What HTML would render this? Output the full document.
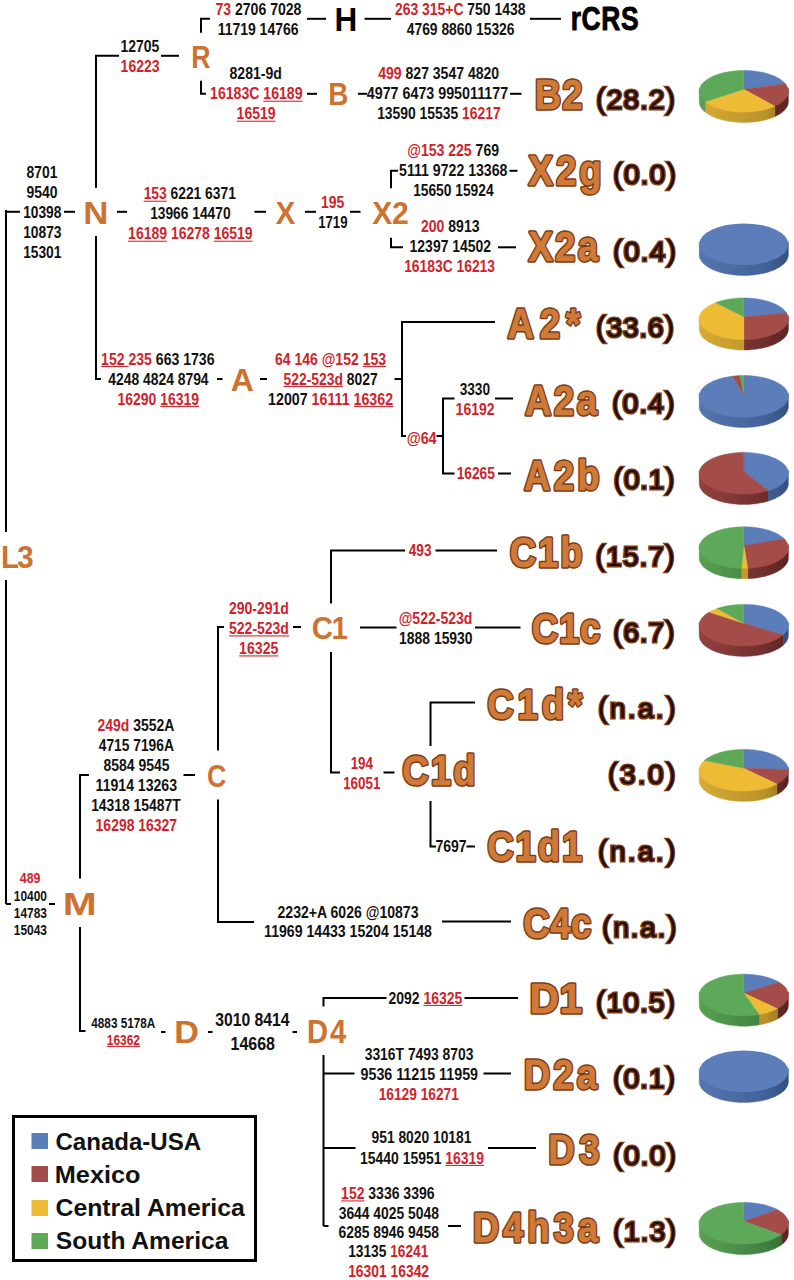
<!DOCTYPE html>
<html><head><meta charset="utf-8"><style>
html,body{margin:0;padding:0;background:#fff;width:794px;height:1280px;overflow:hidden}
svg{display:block}
</style></head><body>
<svg width="794" height="1280" viewBox="0 0 794 1280" font-family="Liberation Sans, sans-serif" font-weight="bold">
<g>
<line x1="6" y1="210" x2="6" y2="532" stroke="#000" stroke-width="2"/>
<line x1="6" y1="580" x2="6" y2="904" stroke="#000" stroke-width="2"/>
<path transform="translate(0,0.8)" d="M6,211 H20" fill="none" stroke="#000" stroke-width="2" stroke-linejoin="miter" stroke-linecap="butt"/>
<path transform="translate(0,0)" d="M6,904 H11" fill="none" stroke="#000" stroke-width="2" stroke-linejoin="miter" stroke-linecap="butt"/>
<path transform="translate(0,0.8)" d="M119,55 H96 V187" fill="none" stroke="#000" stroke-width="2" stroke-linejoin="miter" stroke-linecap="butt"/>
<line x1="96" y1="236" x2="96" y2="380" stroke="#000" stroke-width="2"/>
<path transform="translate(0,0)" d="M96,379 H101" fill="none" stroke="#000" stroke-width="2" stroke-linejoin="miter" stroke-linecap="butt"/>
<path transform="translate(0,0.8)" d="M210,18 H201 V32" fill="none" stroke="#000" stroke-width="2" stroke-linejoin="miter" stroke-linecap="butt"/>
<path transform="translate(0,0.8)" d="M201,80 V93 H206" fill="none" stroke="#000" stroke-width="2" stroke-linejoin="miter" stroke-linecap="butt"/>
<line x1="64" y1="211.8" x2="75" y2="211.8" stroke="#000" stroke-width="2"/>
<line x1="117" y1="211.8" x2="127" y2="211.8" stroke="#000" stroke-width="2"/>
<line x1="254.5" y1="211.8" x2="266" y2="211.8" stroke="#000" stroke-width="2"/>
<line x1="305" y1="211.8" x2="316" y2="211.8" stroke="#000" stroke-width="2"/>
<line x1="350" y1="211.8" x2="360.5" y2="211.8" stroke="#000" stroke-width="2"/>
<line x1="161" y1="55.8" x2="179" y2="55.8" stroke="#000" stroke-width="2"/>
<line x1="307" y1="18.8" x2="326" y2="18.8" stroke="#000" stroke-width="2"/>
<line x1="364.5" y1="18.8" x2="391" y2="18.8" stroke="#000" stroke-width="2"/>
<line x1="530" y1="18.8" x2="561" y2="18.8" stroke="#000" stroke-width="2"/>
<line x1="307" y1="93.8" x2="317" y2="93.8" stroke="#000" stroke-width="2"/>
<line x1="358" y1="93.8" x2="367" y2="93.8" stroke="#000" stroke-width="2"/>
<line x1="510" y1="93.8" x2="521.5" y2="93.8" stroke="#000" stroke-width="2"/>
<path transform="translate(0,0.8)" d="M398,170 H391 V187.5" fill="none" stroke="#000" stroke-width="2" stroke-linejoin="miter" stroke-linecap="butt"/>
<path transform="translate(0,0.8)" d="M391,237 V246.5 H403" fill="none" stroke="#000" stroke-width="2" stroke-linejoin="miter" stroke-linecap="butt"/>
<line x1="509.5" y1="170.8" x2="517.5" y2="170.8" stroke="#000" stroke-width="2"/>
<line x1="498" y1="247.3" x2="516" y2="247.3" stroke="#000" stroke-width="2"/>
<line x1="217" y1="379" x2="222.5" y2="379" stroke="#000" stroke-width="2"/>
<line x1="260" y1="379" x2="267" y2="379" stroke="#000" stroke-width="2"/>
<line x1="394.5" y1="379" x2="402" y2="379" stroke="#000" stroke-width="2"/>
<path transform="translate(0,0)" d="M495,322 H402 V436 H406" fill="none" stroke="#000" stroke-width="2" stroke-linejoin="miter" stroke-linecap="butt"/>
<line x1="436.5" y1="436" x2="443" y2="436" stroke="#000" stroke-width="2"/>
<path transform="translate(0,0)" d="M454.5,398.5 H443 V473.5 H454.5" fill="none" stroke="#000" stroke-width="2" stroke-linejoin="miter" stroke-linecap="butt"/>
<line x1="495" y1="398.5" x2="513" y2="398.5" stroke="#000" stroke-width="2"/>
<line x1="498" y1="473.5" x2="511" y2="473.5" stroke="#000" stroke-width="2"/>
<path transform="translate(0,0.5)" d="M89,774.5 H80 V878" fill="none" stroke="#000" stroke-width="2" stroke-linejoin="miter" stroke-linecap="butt"/>
<path transform="translate(0,0)" d="M80,927 V1031 H85.5" fill="none" stroke="#000" stroke-width="2" stroke-linejoin="miter" stroke-linecap="butt"/>
<line x1="49" y1="904" x2="55" y2="904" stroke="#000" stroke-width="2"/>
<line x1="183.5" y1="775.0" x2="195" y2="775.0" stroke="#000" stroke-width="2"/>
<path transform="translate(0,0.5)" d="M224,626.5 H218 V750" fill="none" stroke="#000" stroke-width="2" stroke-linejoin="miter" stroke-linecap="butt"/>
<path transform="translate(0,0.5)" d="M218,799 V921.5 H254" fill="none" stroke="#000" stroke-width="2" stroke-linejoin="miter" stroke-linecap="butt"/>
<line x1="293" y1="627.0" x2="301" y2="627.0" stroke="#000" stroke-width="2"/>
<line x1="442" y1="921.5" x2="511" y2="921.5" stroke="#000" stroke-width="2"/>
<path transform="translate(0,0.5)" d="M405,550 H331 V603" fill="none" stroke="#000" stroke-width="2" stroke-linejoin="miter" stroke-linecap="butt"/>
<path transform="translate(0,0.5)" d="M331,651.5 V772 H340" fill="none" stroke="#000" stroke-width="2" stroke-linejoin="miter" stroke-linecap="butt"/>
<line x1="435.5" y1="550.5" x2="497" y2="550.5" stroke="#000" stroke-width="2"/>
<line x1="360" y1="627.5" x2="396.5" y2="627.5" stroke="#000" stroke-width="2"/>
<line x1="475" y1="627.5" x2="520.5" y2="627.5" stroke="#000" stroke-width="2"/>
<line x1="383.5" y1="772.5" x2="394.5" y2="772.5" stroke="#000" stroke-width="2"/>
<path transform="translate(0,0.5)" d="M475,702 H430.5 V745.5" fill="none" stroke="#000" stroke-width="2" stroke-linejoin="miter" stroke-linecap="butt"/>
<path transform="translate(0,0.5)" d="M430.5,800.5 V846 H436" fill="none" stroke="#000" stroke-width="2" stroke-linejoin="miter" stroke-linecap="butt"/>
<line x1="466.5" y1="846.5" x2="475" y2="846.5" stroke="#000" stroke-width="2"/>
<line x1="161" y1="1032" x2="165.5" y2="1032" stroke="#000" stroke-width="2"/>
<line x1="208" y1="1032" x2="212.5" y2="1032" stroke="#000" stroke-width="2"/>
<line x1="292.5" y1="1032" x2="297" y2="1032" stroke="#000" stroke-width="2"/>
<path transform="translate(0,0)" d="M386.5,998 H323.5 V1006.5" fill="none" stroke="#000" stroke-width="2" stroke-linejoin="miter" stroke-linecap="butt"/>
<line x1="323.5" y1="1055" x2="323.5" y2="1226" stroke="#000" stroke-width="2"/>
<path transform="translate(0,0)" d="M323.5,1226 H328.5" fill="none" stroke="#000" stroke-width="2" stroke-linejoin="miter" stroke-linecap="butt"/>
<line x1="464.5" y1="998" x2="518" y2="998" stroke="#000" stroke-width="2"/>
<line x1="323.5" y1="1073.5" x2="354.5" y2="1073.5" stroke="#000" stroke-width="2"/>
<line x1="483.5" y1="1073.5" x2="511" y2="1073.5" stroke="#000" stroke-width="2"/>
<line x1="323.5" y1="1148" x2="355.5" y2="1148" stroke="#000" stroke-width="2"/>
<line x1="488" y1="1148" x2="536" y2="1148" stroke="#000" stroke-width="2"/>
<line x1="448" y1="1226" x2="461" y2="1226" stroke="#000" stroke-width="2"/>
<text x="215.40" y="15.3" font-size="16.5" textLength="86.04" lengthAdjust="spacingAndGlyphs" fill="#111"><tspan fill="#d0222a">73</tspan> 2706 7028</text>
<text x="217.63" y="35.3" font-size="16.5" textLength="80.87" lengthAdjust="spacingAndGlyphs" fill="#111">11719 14766</text>
<text x="120.62" y="52.3" font-size="16.5" textLength="38.77" lengthAdjust="spacingAndGlyphs" fill="#111">12705</text>
<text x="120.62" y="72.3" font-size="16.5" textLength="38.89" lengthAdjust="spacingAndGlyphs" fill="#111"><tspan fill="#d0222a">16223</tspan></text>
<text x="229.55" y="79.3" font-size="16.5" textLength="52.37" lengthAdjust="spacingAndGlyphs" fill="#111">8281-9d</text>
<text x="210.11" y="99.3" font-size="16.5" textLength="92.41" lengthAdjust="spacingAndGlyphs" fill="#111"><tspan fill="#d0222a">16183C</tspan> <tspan fill="#d0222a">16189</tspan></text>
<text x="236.62" y="119.3" font-size="16.5" textLength="38.90" lengthAdjust="spacingAndGlyphs" fill="#111"><tspan fill="#d0222a">16519</tspan></text>
<text x="395.02" y="15.3" font-size="16.5" textLength="130.41" lengthAdjust="spacingAndGlyphs" fill="#111"><tspan fill="#d0222a">263 315+C</tspan> 750 1438</text>
<text x="406.79" y="35.3" font-size="16.5" textLength="107.71" lengthAdjust="spacingAndGlyphs" fill="#111">4769 8860 15326</text>
<text x="378.29" y="78.8" font-size="16.5" textLength="120.79" lengthAdjust="spacingAndGlyphs" fill="#111"><tspan fill="#d0222a">499</tspan> 827 3547 4820</text>
<text x="366.79" y="99.0" font-size="16.5" textLength="141.33" lengthAdjust="spacingAndGlyphs" fill="#111">4977 6473 995011177</text>
<text x="377.13" y="119.3" font-size="16.5" textLength="123.48" lengthAdjust="spacingAndGlyphs" fill="#111">13590 15535 <tspan fill="#d0222a">16217</tspan></text>
<text x="26.56" y="178.3" font-size="16.5" textLength="30.83" lengthAdjust="spacingAndGlyphs" fill="#111">8701</text>
<text x="26.52" y="198.3" font-size="16.5" textLength="31.06" lengthAdjust="spacingAndGlyphs" fill="#111">9540</text>
<text x="23.13" y="218.3" font-size="16.5" textLength="38.29" lengthAdjust="spacingAndGlyphs" fill="#111">10398</text>
<text x="23.13" y="238.3" font-size="16.5" textLength="38.37" lengthAdjust="spacingAndGlyphs" fill="#111">10873</text>
<text x="23.13" y="258.3" font-size="16.5" textLength="38.25" lengthAdjust="spacingAndGlyphs" fill="#111">15301</text>
<text x="143.63" y="199.3" font-size="16.5" textLength="92.26" lengthAdjust="spacingAndGlyphs" fill="#111"><tspan fill="#d0222a">153</tspan> 6221 6371</text>
<text x="150.13" y="219.3" font-size="16.5" textLength="80.43" lengthAdjust="spacingAndGlyphs" fill="#111">13966 14470</text>
<text x="128.12" y="239.3" font-size="16.5" textLength="124.40" lengthAdjust="spacingAndGlyphs" fill="#111"><tspan fill="#d0222a">16189</tspan> <tspan fill="#d0222a">16278</tspan> <tspan fill="#d0222a">16519</tspan></text>
<text x="321.12" y="207.8" font-size="16.5" textLength="23.27" lengthAdjust="spacingAndGlyphs" fill="#111"><tspan fill="#d0222a">195</tspan></text>
<text x="318.17" y="227.8" font-size="16.5" textLength="29.32" lengthAdjust="spacingAndGlyphs" fill="#111">1719</text>
<text x="407.20" y="155.8" font-size="16.5" textLength="91.82" lengthAdjust="spacingAndGlyphs" fill="#111"><tspan fill="#d0222a">@153 225</tspan> 769</text>
<text x="399.07" y="175.8" font-size="16.5" textLength="108.36" lengthAdjust="spacingAndGlyphs" fill="#111">5111 9722 13368</text>
<text x="413.13" y="195.8" font-size="16.5" textLength="80.44" lengthAdjust="spacingAndGlyphs" fill="#111">15650 15924</text>
<text x="421.01" y="231.8" font-size="16.5" textLength="58.49" lengthAdjust="spacingAndGlyphs" fill="#111"><tspan fill="#d0222a">200</tspan> 8913</text>
<text x="409.62" y="251.8" font-size="16.5" textLength="81.44" lengthAdjust="spacingAndGlyphs" fill="#111">12397 14502</text>
<text x="404.13" y="271.8" font-size="16.5" textLength="90.87" lengthAdjust="spacingAndGlyphs" fill="#111"><tspan fill="#d0222a">16183C 16213</tspan></text>
<text x="101.11" y="364.5" font-size="16.5" textLength="113.39" lengthAdjust="spacingAndGlyphs" fill="#111"><tspan fill="#d0222a">152 </tspan><tspan fill="#d0222a">235</tspan> 663 1736</text>
<text x="108.29" y="384.5" font-size="16.5" textLength="100.28" lengthAdjust="spacingAndGlyphs" fill="#111">4248 4824 8794</text>
<text x="117.62" y="404.5" font-size="16.5" textLength="81.40" lengthAdjust="spacingAndGlyphs" fill="#111"><tspan fill="#d0222a">16290</tspan> <tspan fill="#d0222a">16319</tspan></text>
<text x="274.99" y="364.5" font-size="16.5" textLength="111.02" lengthAdjust="spacingAndGlyphs" fill="#111"><tspan fill="#d0222a">64 146 @152</tspan> <tspan fill="#d0222a">153</tspan></text>
<text x="283.57" y="384.5" font-size="16.5" textLength="94.04" lengthAdjust="spacingAndGlyphs" fill="#111"><tspan fill="#d0222a">522-523d</tspan> 8027</text>
<text x="268.12" y="404.5" font-size="16.5" textLength="124.95" lengthAdjust="spacingAndGlyphs" fill="#111">12007 <tspan fill="#d0222a">16111</tspan> <tspan fill="#d0222a">16362</tspan></text>
<text x="406.68" y="443.5" font-size="16.5" textLength="29.90" lengthAdjust="spacingAndGlyphs" fill="#111"><tspan fill="#d0222a">@64</tspan></text>
<text x="459.69" y="394.5" font-size="16.5" textLength="30.37" lengthAdjust="spacingAndGlyphs" fill="#111">3330</text>
<text x="455.62" y="414.5" font-size="16.5" textLength="38.94" lengthAdjust="spacingAndGlyphs" fill="#111"><tspan fill="#d0222a">16192</tspan></text>
<text x="456.63" y="479" font-size="16.5" textLength="38.25" lengthAdjust="spacingAndGlyphs" fill="#111"><tspan fill="#d0222a">16265</tspan></text>
<text x="229.01" y="613.5" font-size="16.5" textLength="59.91" lengthAdjust="spacingAndGlyphs" fill="#111"><tspan fill="#d0222a">290-291d</tspan></text>
<text x="229.07" y="634.0" font-size="16.5" textLength="59.85" lengthAdjust="spacingAndGlyphs" fill="#111"><tspan fill="#d0222a">522-523d</tspan></text>
<text x="239.11" y="654.0" font-size="16.5" textLength="39.28" lengthAdjust="spacingAndGlyphs" fill="#111"><tspan fill="#d0222a">16325</tspan></text>
<text x="408.79" y="555.8" font-size="16.5" textLength="22.70" lengthAdjust="spacingAndGlyphs" fill="#111"><tspan fill="#d0222a">493</tspan></text>
<text x="398.70" y="624.0" font-size="16.5" textLength="73.73" lengthAdjust="spacingAndGlyphs" fill="#111"><tspan fill="#d0222a">@522-523d</tspan></text>
<text x="399.12" y="643.5" font-size="16.5" textLength="73.45" lengthAdjust="spacingAndGlyphs" fill="#111">1888 15930</text>
<text x="97.52" y="731.0" font-size="16.5" textLength="76.85" lengthAdjust="spacingAndGlyphs" fill="#111"><tspan fill="#d0222a">249d</tspan> 3552A</text>
<text x="98.79" y="751.0" font-size="16.5" textLength="75.07" lengthAdjust="spacingAndGlyphs" fill="#111">4715 7196A</text>
<text x="103.56" y="770.5" font-size="16.5" textLength="65.83" lengthAdjust="spacingAndGlyphs" fill="#111">8584 9545</text>
<text x="95.62" y="791.0" font-size="16.5" textLength="81.38" lengthAdjust="spacingAndGlyphs" fill="#111">11914 13263</text>
<text x="91.13" y="811.0" font-size="16.5" textLength="89.52" lengthAdjust="spacingAndGlyphs" fill="#111">14318 15487T</text>
<text x="95.62" y="831.0" font-size="16.5" textLength="81.49" lengthAdjust="spacingAndGlyphs" fill="#111"><tspan fill="#d0222a">16298 16327</tspan></text>
<text x="350.65" y="769.0" font-size="16.5" textLength="22.42" lengthAdjust="spacingAndGlyphs" fill="#111"><tspan fill="#d0222a">194</tspan></text>
<text x="343.16" y="789.0" font-size="16.5" textLength="37.22" lengthAdjust="spacingAndGlyphs" fill="#111"><tspan fill="#d0222a">16051</tspan></text>
<text x="435.40" y="852.0" font-size="16.5" textLength="31.22" lengthAdjust="spacingAndGlyphs" fill="#111">7697</text>
<text x="277.51" y="917.5" font-size="16.5" textLength="140.99" lengthAdjust="spacingAndGlyphs" fill="#111">2232+A 6026 @10873</text>
<text x="264.12" y="937" font-size="16.5" textLength="167.82" lengthAdjust="spacingAndGlyphs" fill="#111">11969 14433 15204 15148</text>
<text x="19.81" y="883" font-size="14" textLength="20.65" lengthAdjust="spacingAndGlyphs" fill="#111"><tspan fill="#d0222a">489</tspan></text>
<text x="13.75" y="900.5" font-size="14" textLength="33.24" lengthAdjust="spacingAndGlyphs" fill="#111">10400</text>
<text x="13.75" y="917.5" font-size="14" textLength="33.18" lengthAdjust="spacingAndGlyphs" fill="#111">14783</text>
<text x="13.75" y="934.5" font-size="14" textLength="33.18" lengthAdjust="spacingAndGlyphs" fill="#111">15043</text>
<text x="91.32" y="1027.5" font-size="14" textLength="63.99" lengthAdjust="spacingAndGlyphs" fill="#111">4883 5178A</text>
<text x="106.75" y="1044.5" font-size="14" textLength="33.23" lengthAdjust="spacingAndGlyphs" fill="#111"><tspan fill="#d0222a">16362</tspan></text>
<text x="215.14" y="1026" font-size="18" textLength="74.45" lengthAdjust="spacingAndGlyphs" fill="#111">3010 8414</text>
<text x="230.49" y="1049.5" font-size="18" textLength="44.50" lengthAdjust="spacingAndGlyphs" fill="#111">14668</text>
<text x="388.52" y="1003.5" font-size="16.5" textLength="73.87" lengthAdjust="spacingAndGlyphs" fill="#111">2092 <tspan fill="#d0222a">16325</tspan></text>
<text x="364.68" y="1059.5" font-size="16.5" textLength="108.82" lengthAdjust="spacingAndGlyphs" fill="#111">3316T 7493 8703</text>
<text x="360.51" y="1079.5" font-size="16.5" textLength="117.51" lengthAdjust="spacingAndGlyphs" fill="#111">9536 11215 11959</text>
<text x="378.63" y="1099.5" font-size="16.5" textLength="80.25" lengthAdjust="spacingAndGlyphs" fill="#111"><tspan fill="#d0222a">16129 16271</tspan></text>
<text x="371.52" y="1143" font-size="16.5" textLength="99.86" lengthAdjust="spacingAndGlyphs" fill="#111">951 8020 10181</text>
<text x="360.12" y="1163.5" font-size="16.5" textLength="123.89" lengthAdjust="spacingAndGlyphs" fill="#111">15440 15951 <tspan fill="#d0222a">16319</tspan></text>
<text x="341.12" y="1199" font-size="16.5" textLength="93.39" lengthAdjust="spacingAndGlyphs" fill="#111"><tspan fill="#d0222a">152</tspan> 3336 3396</text>
<text x="338.68" y="1218.5" font-size="16.5" textLength="100.24" lengthAdjust="spacingAndGlyphs" fill="#111">3644 4025 5048</text>
<text x="338.49" y="1238" font-size="16.5" textLength="100.44" lengthAdjust="spacingAndGlyphs" fill="#111">6285 8946 9458</text>
<text x="348.13" y="1257" font-size="16.5" textLength="80.25" lengthAdjust="spacingAndGlyphs" fill="#111">13135 <tspan fill="#d0222a">16241</tspan></text>
<text x="348.13" y="1276.5" font-size="16.5" textLength="80.93" lengthAdjust="spacingAndGlyphs" fill="#111"><tspan fill="#d0222a">16301 16342</tspan></text>
<text x="83.17" y="224" font-size="31" textLength="25.18" lengthAdjust="spacingAndGlyphs" fill="#cc7232">N</text>
<text x="191.21" y="68" font-size="31" textLength="19.34" lengthAdjust="spacingAndGlyphs" fill="#cc7232">R</text>
<text x="328.14" y="104.5" font-size="31" textLength="20.13" lengthAdjust="spacingAndGlyphs" fill="#cc7232">B</text>
<text x="334.39" y="30.5" font-size="33.5" textLength="22.73" lengthAdjust="spacingAndGlyphs" fill="#000">H</text>
<text x="275.74" y="223.5" font-size="31" textLength="19.51" lengthAdjust="spacingAndGlyphs" fill="#cc7232">X</text>
<text transform="translate(372.24,223.50) scale(0.94,1)" x="0" y="0" font-size="32" textLength="38.80" lengthAdjust="spacing" fill="#cc7232">X2</text>
<text x="230.70" y="390.5" font-size="31" textLength="23.14" lengthAdjust="spacingAndGlyphs" fill="#cc7232">A</text>
<text transform="translate(311.79,638.50) scale(0.92,1)" x="0" y="0" font-size="32" textLength="39.16" lengthAdjust="spacing" fill="#cc7232">C1</text>
<text x="206.90" y="786.5" font-size="31" textLength="19.33" lengthAdjust="spacingAndGlyphs" fill="#cc7232">C</text>
<text x="62.77" y="915" font-size="31" textLength="33.95" lengthAdjust="spacingAndGlyphs" fill="#cc7232">M</text>
<text x="174.21" y="1042.5" font-size="31" textLength="24.73" lengthAdjust="spacingAndGlyphs" fill="#cc7232">D</text>
<text transform="translate(307.04,1043.00) scale(0.9,1)" x="0" y="0" font-size="32.5" textLength="43.46" lengthAdjust="spacing" fill="#cc7232">D4</text>
<text transform="translate(1.03,568.00) scale(0.92,1)" x="0" y="0" font-size="32" textLength="35.36" lengthAdjust="spacing" fill="#cc7232">L3</text>
<text transform="translate(570.71,30.30) scale(0.8,1)" x="0" y="0" font-size="33" textLength="84.84" lengthAdjust="spacing" fill="#000" stroke="#000" stroke-width="0.9" stroke-linejoin="round">rCRS</text>
<text transform="translate(534.86,109.40) scale(0.85,1)" x="0" y="0" font-size="43" textLength="56.25" lengthAdjust="spacing" fill="#d07a3a" stroke="#7a3a14" stroke-width="3.6" stroke-linejoin="round">B2</text>
<text transform="translate(534.86,109.40) scale(0.85,1)" x="0" y="0" font-size="43" textLength="56.25" lengthAdjust="spacing" fill="#d07a3a" stroke="#d07a3a" stroke-width="0.60" stroke-linejoin="round">B2</text>
<text transform="translate(528.48,185.40) scale(0.85,1)" x="0" y="0" font-size="43" textLength="86.08" lengthAdjust="spacing" fill="#d07a3a" stroke="#7a3a14" stroke-width="3.6" stroke-linejoin="round">X2g</text>
<text transform="translate(528.48,185.40) scale(0.85,1)" x="0" y="0" font-size="43" textLength="86.08" lengthAdjust="spacing" fill="#d07a3a" stroke="#d07a3a" stroke-width="0.60" stroke-linejoin="round">X2g</text>
<text transform="translate(528.48,261.40) scale(0.85,1)" x="0" y="0" font-size="43" textLength="81.75" lengthAdjust="spacing" fill="#d07a3a" stroke="#7a3a14" stroke-width="3.6" stroke-linejoin="round">X2a</text>
<text transform="translate(528.48,261.40) scale(0.85,1)" x="0" y="0" font-size="43" textLength="81.75" lengthAdjust="spacing" fill="#d07a3a" stroke="#d07a3a" stroke-width="0.60" stroke-linejoin="round">X2a</text>
<text transform="translate(507.39,337.90) scale(0.85,1)" x="0" y="0" font-size="43" textLength="85.70" lengthAdjust="spacing" fill="#d07a3a" stroke="#7a3a14" stroke-width="3.6" stroke-linejoin="round">A2*</text>
<text transform="translate(507.39,337.90) scale(0.85,1)" x="0" y="0" font-size="43" textLength="85.70" lengthAdjust="spacing" fill="#d07a3a" stroke="#d07a3a" stroke-width="0.60" stroke-linejoin="round">A2*</text>
<text transform="translate(524.89,414.90) scale(0.85,1)" x="0" y="0" font-size="43" textLength="84.80" lengthAdjust="spacing" fill="#d07a3a" stroke="#7a3a14" stroke-width="3.6" stroke-linejoin="round">A2a</text>
<text transform="translate(524.89,414.90) scale(0.85,1)" x="0" y="0" font-size="43" textLength="84.80" lengthAdjust="spacing" fill="#d07a3a" stroke="#d07a3a" stroke-width="0.60" stroke-linejoin="round">A2a</text>
<text transform="translate(523.89,489.90) scale(0.85,1)" x="0" y="0" font-size="43" textLength="89.19" lengthAdjust="spacing" fill="#d07a3a" stroke="#7a3a14" stroke-width="3.6" stroke-linejoin="round">A2b</text>
<text transform="translate(523.89,489.90) scale(0.85,1)" x="0" y="0" font-size="43" textLength="89.19" lengthAdjust="spacing" fill="#d07a3a" stroke="#d07a3a" stroke-width="0.60" stroke-linejoin="round">A2b</text>
<text transform="translate(509.80,566.90) scale(0.85,1)" x="0" y="0" font-size="43" textLength="85.76" lengthAdjust="spacing" fill="#d07a3a" stroke="#7a3a14" stroke-width="3.6" stroke-linejoin="round">C1b</text>
<text transform="translate(509.80,566.90) scale(0.85,1)" x="0" y="0" font-size="43" textLength="85.76" lengthAdjust="spacing" fill="#d07a3a" stroke="#d07a3a" stroke-width="0.60" stroke-linejoin="round">C1b</text>
<text transform="translate(531.80,643.40) scale(0.85,1)" x="0" y="0" font-size="43" textLength="80.55" lengthAdjust="spacing" fill="#d07a3a" stroke="#7a3a14" stroke-width="3.6" stroke-linejoin="round">C1c</text>
<text transform="translate(531.80,643.40) scale(0.85,1)" x="0" y="0" font-size="43" textLength="80.55" lengthAdjust="spacing" fill="#d07a3a" stroke="#d07a3a" stroke-width="0.60" stroke-linejoin="round">C1c</text>
<text transform="translate(487.30,718.90) scale(0.85,1)" x="0" y="0" font-size="43" textLength="111.69" lengthAdjust="spacing" fill="#d07a3a" stroke="#7a3a14" stroke-width="3.6" stroke-linejoin="round">C1d*</text>
<text transform="translate(487.30,718.90) scale(0.85,1)" x="0" y="0" font-size="43" textLength="111.69" lengthAdjust="spacing" fill="#d07a3a" stroke="#d07a3a" stroke-width="0.60" stroke-linejoin="round">C1d*</text>
<text transform="translate(402.30,785.40) scale(0.85,1)" x="0" y="0" font-size="43" textLength="86.25" lengthAdjust="spacing" fill="#d07a3a" stroke="#7a3a14" stroke-width="3.6" stroke-linejoin="round">C1d</text>
<text transform="translate(402.30,785.40) scale(0.85,1)" x="0" y="0" font-size="43" textLength="86.25" lengthAdjust="spacing" fill="#d07a3a" stroke="#d07a3a" stroke-width="0.60" stroke-linejoin="round">C1d</text>
<text transform="translate(487.30,861.40) scale(0.85,1)" x="0" y="0" font-size="43" textLength="111.67" lengthAdjust="spacing" fill="#d07a3a" stroke="#7a3a14" stroke-width="3.6" stroke-linejoin="round">C1d1</text>
<text transform="translate(487.30,861.40) scale(0.85,1)" x="0" y="0" font-size="43" textLength="111.67" lengthAdjust="spacing" fill="#d07a3a" stroke="#d07a3a" stroke-width="0.60" stroke-linejoin="round">C1d1</text>
<text transform="translate(523.30,937.90) scale(0.85,1)" x="0" y="0" font-size="43" textLength="79.96" lengthAdjust="spacing" fill="#d07a3a" stroke="#7a3a14" stroke-width="3.6" stroke-linejoin="round">C4c</text>
<text transform="translate(523.30,937.90) scale(0.85,1)" x="0" y="0" font-size="43" textLength="79.96" lengthAdjust="spacing" fill="#d07a3a" stroke="#d07a3a" stroke-width="0.60" stroke-linejoin="round">C4c</text>
<text transform="translate(529.57,1013.40) scale(0.95,1)" x="0" y="0" font-size="43" textLength="55.55" lengthAdjust="spacing" fill="#d07a3a" stroke="#7a3a14" stroke-width="3.6" stroke-linejoin="round">D1</text>
<text transform="translate(529.57,1013.40) scale(0.95,1)" x="0" y="0" font-size="43" textLength="55.55" lengthAdjust="spacing" fill="#d07a3a" stroke="#d07a3a" stroke-width="0.60" stroke-linejoin="round">D1</text>
<text transform="translate(523.86,1088.90) scale(0.85,1)" x="0" y="0" font-size="43" textLength="86.02" lengthAdjust="spacing" fill="#d07a3a" stroke="#7a3a14" stroke-width="3.6" stroke-linejoin="round">D2a</text>
<text transform="translate(523.86,1088.90) scale(0.85,1)" x="0" y="0" font-size="43" textLength="86.02" lengthAdjust="spacing" fill="#d07a3a" stroke="#d07a3a" stroke-width="0.60" stroke-linejoin="round">D2a</text>
<text transform="translate(548.36,1163.90) scale(0.85,1)" x="0" y="0" font-size="43" textLength="60.19" lengthAdjust="spacing" fill="#d07a3a" stroke="#7a3a14" stroke-width="3.6" stroke-linejoin="round">D3</text>
<text transform="translate(548.36,1163.90) scale(0.85,1)" x="0" y="0" font-size="43" textLength="60.19" lengthAdjust="spacing" fill="#d07a3a" stroke="#d07a3a" stroke-width="0.60" stroke-linejoin="round">D3</text>
<text transform="translate(472.86,1241.90) scale(0.85,1)" x="0" y="0" font-size="43" textLength="147.19" lengthAdjust="spacing" fill="#d07a3a" stroke="#7a3a14" stroke-width="3.6" stroke-linejoin="round">D4h3a</text>
<text transform="translate(472.86,1241.90) scale(0.85,1)" x="0" y="0" font-size="43" textLength="147.19" lengthAdjust="spacing" fill="#d07a3a" stroke="#d07a3a" stroke-width="0.60" stroke-linejoin="round">D4h3a</text>
<text transform="translate(595.64,108.85) scale(1.0,1)" x="0" y="0" font-size="28.5" font-weight="normal" textLength="79.72" lengthAdjust="spacing" fill="#220d05" stroke="#7a3a18" stroke-width="3.0" paint-order="stroke"><tspan font-size="30" stroke-width="2.3">(</tspan>28.2<tspan font-size="30" stroke-width="2.3">)</tspan></text>
<text transform="translate(612.64,184.25) scale(1.0,1)" x="0" y="0" font-size="28.5" font-weight="normal" textLength="63.72" lengthAdjust="spacing" fill="#220d05" stroke="#7a3a18" stroke-width="3.0" paint-order="stroke"><tspan font-size="30" stroke-width="2.3">(</tspan>0.0<tspan font-size="30" stroke-width="2.3">)</tspan></text>
<text transform="translate(612.64,260.75) scale(1.0,1)" x="0" y="0" font-size="28.5" font-weight="normal" textLength="63.72" lengthAdjust="spacing" fill="#220d05" stroke="#7a3a18" stroke-width="3.0" paint-order="stroke"><tspan font-size="30" stroke-width="2.3">(</tspan>0.4<tspan font-size="30" stroke-width="2.3">)</tspan></text>
<text transform="translate(595.64,336.60) scale(1.0,1)" x="0" y="0" font-size="28.5" font-weight="normal" textLength="78.72" lengthAdjust="spacing" fill="#220d05" stroke="#7a3a18" stroke-width="3.0" paint-order="stroke"><tspan font-size="30" stroke-width="2.3">(</tspan>33.6<tspan font-size="30" stroke-width="2.3">)</tspan></text>
<text transform="translate(611.64,413.40) scale(1.0,1)" x="0" y="0" font-size="28.5" font-weight="normal" textLength="63.22" lengthAdjust="spacing" fill="#220d05" stroke="#7a3a18" stroke-width="3.0" paint-order="stroke"><tspan font-size="30" stroke-width="2.3">(</tspan>0.4<tspan font-size="30" stroke-width="2.3">)</tspan></text>
<text transform="translate(613.14,488.90) scale(1.0,1)" x="0" y="0" font-size="28.5" font-weight="normal" textLength="61.72" lengthAdjust="spacing" fill="#220d05" stroke="#7a3a18" stroke-width="3.0" paint-order="stroke"><tspan font-size="30" stroke-width="2.3">(</tspan>0.1<tspan font-size="30" stroke-width="2.3">)</tspan></text>
<text transform="translate(595.14,565.55) scale(1.0,1)" x="0" y="0" font-size="28.5" font-weight="normal" textLength="79.72" lengthAdjust="spacing" fill="#220d05" stroke="#7a3a18" stroke-width="3.0" paint-order="stroke"><tspan font-size="30" stroke-width="2.3">(</tspan>15.7<tspan font-size="30" stroke-width="2.3">)</tspan></text>
<text transform="translate(612.64,642.10) scale(1.0,1)" x="0" y="0" font-size="28.5" font-weight="normal" textLength="62.22" lengthAdjust="spacing" fill="#220d05" stroke="#7a3a18" stroke-width="3.0" paint-order="stroke"><tspan font-size="30" stroke-width="2.3">(</tspan>6.7<tspan font-size="30" stroke-width="2.3">)</tspan></text>
<text transform="translate(597.64,717.80) scale(1.0,1)" x="0" y="0" font-size="28.5" font-weight="normal" textLength="78.22" lengthAdjust="spacing" fill="#220d05" stroke="#7a3a18" stroke-width="3.0" paint-order="stroke"><tspan font-size="30" stroke-width="2.3">(</tspan>n.a.<tspan font-size="30" stroke-width="2.3">)</tspan></text>
<text transform="translate(607.64,783.75) scale(1.0,1)" x="0" y="0" font-size="28.5" font-weight="normal" textLength="68.22" lengthAdjust="spacing" fill="#220d05" stroke="#7a3a18" stroke-width="3.0" paint-order="stroke"><tspan font-size="30" stroke-width="2.3">(</tspan>3.0<tspan font-size="30" stroke-width="2.3">)</tspan></text>
<text transform="translate(597.64,860.70) scale(1.0,1)" x="0" y="0" font-size="28.5" font-weight="normal" textLength="78.22" lengthAdjust="spacing" fill="#220d05" stroke="#7a3a18" stroke-width="3.0" paint-order="stroke"><tspan font-size="30" stroke-width="2.3">(</tspan>n.a.<tspan font-size="30" stroke-width="2.3">)</tspan></text>
<text transform="translate(601.64,937.00) scale(1.0,1)" x="0" y="0" font-size="28.5" font-weight="normal" textLength="75.22" lengthAdjust="spacing" fill="#220d05" stroke="#7a3a18" stroke-width="3.0" paint-order="stroke"><tspan font-size="30" stroke-width="2.3">(</tspan>n.a.<tspan font-size="30" stroke-width="2.3">)</tspan></text>
<text transform="translate(595.64,1011.90) scale(1.0,1)" x="0" y="0" font-size="28.5" font-weight="normal" textLength="79.72" lengthAdjust="spacing" fill="#220d05" stroke="#7a3a18" stroke-width="3.0" paint-order="stroke"><tspan font-size="30" stroke-width="2.3">(</tspan>10.5<tspan font-size="30" stroke-width="2.3">)</tspan></text>
<text transform="translate(612.64,1087.80) scale(1.0,1)" x="0" y="0" font-size="28.5" font-weight="normal" textLength="62.72" lengthAdjust="spacing" fill="#220d05" stroke="#7a3a18" stroke-width="3.0" paint-order="stroke"><tspan font-size="30" stroke-width="2.3">(</tspan>0.1<tspan font-size="30" stroke-width="2.3">)</tspan></text>
<text transform="translate(612.64,1164.55) scale(1.0,1)" x="0" y="0" font-size="28.5" font-weight="normal" textLength="63.72" lengthAdjust="spacing" fill="#220d05" stroke="#7a3a18" stroke-width="3.0" paint-order="stroke"><tspan font-size="30" stroke-width="2.3">(</tspan>0.0<tspan font-size="30" stroke-width="2.3">)</tspan></text>
<text transform="translate(612.64,1241.20) scale(1.0,1)" x="0" y="0" font-size="28.5" font-weight="normal" textLength="63.72" lengthAdjust="spacing" fill="#220d05" stroke="#7a3a18" stroke-width="3.0" paint-order="stroke"><tspan font-size="30" stroke-width="2.3">(</tspan>1.3<tspan font-size="30" stroke-width="2.3">)</tspan></text>
<rect x="263.36" y="100.70" width="39.16" height="1.05" fill="#d0222a"/>
<rect x="236.62" y="120.70" width="38.90" height="1.05" fill="#d0222a"/>
<rect x="143.63" y="200.70" width="23.07" height="1.05" fill="#d0222a"/>
<rect x="128.12" y="240.70" width="38.88" height="1.05" fill="#d0222a"/>
<rect x="213.64" y="240.70" width="38.88" height="1.05" fill="#d0222a"/>
<rect x="101.11" y="365.90" width="27.37" height="1.05" fill="#d0222a"/>
<rect x="160.26" y="405.90" width="38.76" height="1.05" fill="#d0222a"/>
<rect x="362.64" y="365.90" width="23.37" height="1.05" fill="#d0222a"/>
<rect x="283.57" y="385.90" width="59.34" height="1.05" fill="#d0222a"/>
<rect x="354.01" y="405.90" width="39.05" height="1.05" fill="#d0222a"/>
<rect x="229.07" y="635.40" width="59.85" height="1.05" fill="#d0222a"/>
<rect x="239.11" y="655.40" width="39.28" height="1.05" fill="#d0222a"/>
<rect x="106.75" y="1045.90" width="33.23" height="1.05" fill="#d0222a"/>
<rect x="423.51" y="1004.90" width="38.88" height="1.05" fill="#d0222a"/>
<rect x="445.30" y="1164.90" width="38.72" height="1.05" fill="#d0222a"/>
<rect x="341.12" y="1200.40" width="23.35" height="1.05" fill="#d0222a"/>
</g>
<linearGradient id="g1r" gradientUnits="userSpaceOnUse" x1="699.1999999999999" y1="0" x2="788.4" y2="0"><stop offset="0" stop-color="#94403e"/><stop offset="0.75" stop-color="#6e2e2c"/><stop offset="1" stop-color="#5a2422"/></linearGradient>
<path d="M788.40,88.30 L788.34,89.41 L788.14,90.52 L787.83,91.63 L787.38,92.72 L786.81,93.80 L786.12,94.87 L785.31,95.91 L784.37,96.94 L783.32,97.94 L782.16,98.91 L780.89,99.85 L779.51,100.76 L778.03,101.63 L776.45,102.47 L774.78,103.26 L774.78,116.66 L776.45,115.87 L778.03,115.03 L779.51,114.16 L780.89,113.25 L782.16,112.31 L783.32,111.34 L784.37,110.34 L785.31,109.31 L786.12,108.27 L786.81,107.20 L787.38,106.12 L787.83,105.03 L788.14,103.92 L788.34,102.81 L788.40,101.70 Z" fill="url(#g1r)" stroke="url(#g1r)" stroke-width="0.4"/>
<linearGradient id="g1y" gradientUnits="userSpaceOnUse" x1="699.1999999999999" y1="0" x2="788.4" y2="0"><stop offset="0" stop-color="#d8aa36"/><stop offset="0.75" stop-color="#b8922a"/><stop offset="1" stop-color="#8a6a18"/></linearGradient>
<path d="M774.78,103.26 L773.03,104.01 L771.19,104.72 L769.27,105.38 L767.28,105.98 L765.22,106.54 L763.10,107.05 L760.93,107.50 L758.71,107.90 L756.45,108.25 L754.14,108.53 L751.82,108.76 L749.46,108.93 L747.09,109.04 L744.72,109.10 L742.34,109.09 L739.96,109.02 L737.59,108.90 L735.24,108.71 L732.92,108.47 L730.63,108.17 L728.37,107.82 L726.16,107.40 L724.00,106.94 L721.90,106.42 L719.86,105.85 L717.88,105.23 L715.98,104.56 L714.16,103.84 L712.43,103.08 L710.78,102.28 L709.23,101.44 L707.77,100.56 L706.42,99.65 L705.18,98.70 L705.18,112.10 L706.42,113.05 L707.77,113.96 L709.23,114.84 L710.78,115.68 L712.43,116.48 L714.16,117.24 L715.98,117.96 L717.88,118.63 L719.86,119.25 L721.90,119.82 L724.00,120.34 L726.16,120.80 L728.37,121.22 L730.63,121.57 L732.92,121.87 L735.24,122.11 L737.59,122.30 L739.96,122.42 L742.34,122.49 L744.72,122.50 L747.09,122.44 L749.46,122.33 L751.82,122.16 L754.14,121.93 L756.45,121.65 L758.71,121.30 L760.93,120.90 L763.10,120.45 L765.22,119.94 L767.28,119.38 L769.27,118.78 L771.19,118.12 L773.03,117.41 L774.78,116.66 Z" fill="url(#g1y)" stroke="url(#g1y)" stroke-width="0.4"/>
<linearGradient id="g1g" gradientUnits="userSpaceOnUse" x1="699.1999999999999" y1="0" x2="788.4" y2="0"><stop offset="0" stop-color="#58a054"/><stop offset="0.75" stop-color="#418040"/><stop offset="1" stop-color="#33662f"/></linearGradient>
<path d="M705.18,98.70 L704.06,97.74 L703.06,96.76 L702.16,95.75 L701.38,94.73 L700.72,93.68 L700.17,92.62 L699.75,91.55 L699.44,90.47 L699.26,89.39 L699.20,88.30 L699.20,101.70 L699.26,102.79 L699.44,103.87 L699.75,104.95 L700.17,106.02 L700.72,107.08 L701.38,108.13 L702.16,109.15 L703.06,110.16 L704.06,111.14 L705.18,112.10 Z" fill="url(#g1g)" stroke="url(#g1g)" stroke-width="0.4"/>
<path d="M743.80,89.30 L743.80,70.50 L746.13,70.53 L748.46,70.61 L750.78,70.76 L753.07,70.95 L755.34,71.21 L757.58,71.52 L759.78,71.88 L761.94,72.30 L764.05,72.77 L766.10,73.29 L768.09,73.86 L770.02,74.47 L771.87,75.14 L773.64,75.84 L775.34,76.59 L776.94,77.38 L778.46,78.21 L779.88,79.07 L781.20,79.97 L782.42,80.90 L783.54,81.86 L784.54,82.84 L785.44,83.85 Z" fill="#5b7db9" stroke="#5b7db9" stroke-width="0.5" stroke-linejoin="round"/>
<path d="M743.80,89.30 L785.44,83.85 L786.23,84.89 L786.90,85.95 L787.45,87.02 L787.87,88.11 L788.17,89.21 L788.35,90.31 L788.40,91.42 L788.32,92.52 L788.12,93.62 L787.79,94.72 L787.34,95.80 L786.77,96.87 L786.07,97.93 L785.26,98.97 L784.33,99.99 L783.28,100.98 L782.12,101.94 L780.85,102.88 L779.48,103.78 L778.01,104.64 L776.44,105.47 L774.78,106.26 Z" fill="#a44c4a" stroke="#a44c4a" stroke-width="0.5" stroke-linejoin="round"/>
<path d="M743.80,89.30 L774.78,106.26 L773.03,107.01 L771.19,107.72 L769.27,108.38 L767.28,108.98 L765.22,109.54 L763.10,110.05 L760.93,110.50 L758.71,110.90 L756.45,111.25 L754.14,111.53 L751.82,111.76 L749.46,111.93 L747.09,112.04 L744.72,112.10 L742.34,112.09 L739.96,112.02 L737.59,111.90 L735.24,111.71 L732.92,111.47 L730.63,111.17 L728.37,110.82 L726.16,110.40 L724.00,109.94 L721.90,109.42 L719.86,108.85 L717.88,108.23 L715.98,107.56 L714.16,106.84 L712.43,106.08 L710.78,105.28 L709.23,104.44 L707.77,103.56 L706.42,102.65 L705.18,101.70 Z" fill="#eebb35" stroke="#eebb35" stroke-width="0.5" stroke-linejoin="round"/>
<path d="M743.80,89.30 L705.18,101.70 L704.06,100.74 L703.06,99.76 L702.16,98.75 L701.38,97.73 L700.72,96.68 L700.17,95.62 L699.75,94.55 L699.44,93.47 L699.26,92.39 L699.20,91.30 L699.26,90.21 L699.44,89.13 L699.75,88.05 L700.17,86.98 L700.72,85.92 L701.38,84.87 L702.16,83.85 L703.06,82.84 L704.06,81.86 L705.18,80.90 L706.40,79.97 L707.72,79.07 L709.14,78.21 L710.66,77.38 L712.26,76.59 L713.96,75.84 L715.73,75.14 L717.58,74.47 L719.51,73.86 L721.50,73.29 L723.55,72.77 L725.66,72.30 L727.82,71.88 L730.02,71.52 L732.26,71.21 L734.53,70.95 L736.82,70.76 L739.14,70.61 L741.47,70.53 L743.80,70.50 Z" fill="#5ea85a" stroke="#5ea85a" stroke-width="0.5" stroke-linejoin="round"/>
<linearGradient id="g2b" gradientUnits="userSpaceOnUse" x1="699.1999999999999" y1="0" x2="788.4" y2="0"><stop offset="0" stop-color="#5676b0"/><stop offset="0.75" stop-color="#42609a"/><stop offset="1" stop-color="#34507f"/></linearGradient>
<path d="M788.40,241.30 L788.34,242.39 L788.16,243.47 L787.85,244.55 L787.43,245.62 L786.88,246.68 L786.22,247.73 L785.44,248.75 L784.54,249.76 L783.54,250.74 L782.42,251.70 L781.20,252.63 L779.88,253.53 L778.46,254.39 L776.94,255.22 L775.34,256.01 L773.64,256.76 L771.87,257.46 L770.02,258.13 L768.09,258.74 L766.10,259.31 L764.05,259.83 L761.94,260.30 L759.78,260.72 L757.58,261.08 L755.34,261.39 L753.07,261.65 L750.78,261.84 L748.46,261.99 L746.13,262.07 L743.80,262.10 L741.47,262.07 L739.14,261.99 L736.82,261.84 L734.53,261.65 L732.26,261.39 L730.02,261.08 L727.82,260.72 L725.66,260.30 L723.55,259.83 L721.50,259.31 L719.51,258.74 L717.58,258.13 L715.73,257.46 L713.96,256.76 L712.26,256.01 L710.66,255.22 L709.14,254.39 L707.72,253.53 L706.40,252.63 L705.18,251.70 L704.06,250.74 L703.06,249.76 L702.16,248.75 L701.38,247.73 L700.72,246.68 L700.17,245.62 L699.75,244.55 L699.44,243.47 L699.26,242.39 L699.20,241.30 L699.20,254.70 L699.26,255.79 L699.44,256.87 L699.75,257.95 L700.17,259.02 L700.72,260.08 L701.38,261.13 L702.16,262.15 L703.06,263.16 L704.06,264.14 L705.18,265.10 L706.40,266.03 L707.72,266.93 L709.14,267.79 L710.66,268.62 L712.26,269.41 L713.96,270.16 L715.73,270.86 L717.58,271.53 L719.51,272.14 L721.50,272.71 L723.55,273.23 L725.66,273.70 L727.82,274.12 L730.02,274.48 L732.26,274.79 L734.53,275.05 L736.82,275.24 L739.14,275.39 L741.47,275.47 L743.80,275.50 L746.13,275.47 L748.46,275.39 L750.78,275.24 L753.07,275.05 L755.34,274.79 L757.58,274.48 L759.78,274.12 L761.94,273.70 L764.05,273.23 L766.10,272.71 L768.09,272.14 L770.02,271.53 L771.87,270.86 L773.64,270.16 L775.34,269.41 L776.94,268.62 L778.46,267.79 L779.88,266.93 L781.20,266.03 L782.42,265.10 L783.54,264.14 L784.54,263.16 L785.44,262.15 L786.22,261.13 L786.88,260.08 L787.43,259.02 L787.85,257.95 L788.16,256.87 L788.34,255.79 L788.40,254.70 Z" fill="url(#g2b)" stroke="url(#g2b)" stroke-width="0.4"/>
<ellipse cx="743.8" cy="244.3" rx="44.6" ry="20.8" fill="#5b7db9"/>
<linearGradient id="g3r" gradientUnits="userSpaceOnUse" x1="699.1999999999999" y1="0" x2="788.4" y2="0"><stop offset="0" stop-color="#94403e"/><stop offset="0.75" stop-color="#6e2e2c"/><stop offset="1" stop-color="#5a2422"/></linearGradient>
<path d="M788.40,315.80 L788.34,316.89 L788.16,317.97 L787.85,319.05 L787.43,320.12 L786.88,321.18 L786.22,322.23 L785.44,323.25 L784.54,324.26 L783.54,325.24 L782.42,326.20 L781.20,327.13 L779.88,328.03 L778.46,328.89 L776.94,329.72 L775.34,330.51 L773.64,331.26 L771.87,331.96 L770.02,332.63 L768.09,333.24 L766.10,333.81 L764.05,334.33 L761.94,334.80 L759.78,335.22 L757.58,335.58 L755.34,335.89 L753.07,336.15 L750.78,336.34 L748.46,336.49 L746.13,336.57 L743.80,336.60 L743.80,350.00 L746.13,349.97 L748.46,349.89 L750.78,349.74 L753.07,349.55 L755.34,349.29 L757.58,348.98 L759.78,348.62 L761.94,348.20 L764.05,347.73 L766.10,347.21 L768.09,346.64 L770.02,346.03 L771.87,345.36 L773.64,344.66 L775.34,343.91 L776.94,343.12 L778.46,342.29 L779.88,341.43 L781.20,340.53 L782.42,339.60 L783.54,338.64 L784.54,337.66 L785.44,336.65 L786.22,335.63 L786.88,334.58 L787.43,333.52 L787.85,332.45 L788.16,331.37 L788.34,330.29 L788.40,329.20 Z" fill="url(#g3r)" stroke="url(#g3r)" stroke-width="0.4"/>
<linearGradient id="g3y" gradientUnits="userSpaceOnUse" x1="699.1999999999999" y1="0" x2="788.4" y2="0"><stop offset="0" stop-color="#d8aa36"/><stop offset="0.75" stop-color="#b8922a"/><stop offset="1" stop-color="#8a6a18"/></linearGradient>
<path d="M743.80,336.60 L741.47,336.57 L739.14,336.49 L736.82,336.34 L734.53,336.15 L732.26,335.89 L730.02,335.58 L727.82,335.22 L725.66,334.80 L723.55,334.33 L721.50,333.81 L719.51,333.24 L717.58,332.63 L715.73,331.96 L713.96,331.26 L712.26,330.51 L710.66,329.72 L709.14,328.89 L707.72,328.03 L706.40,327.13 L705.18,326.20 L704.06,325.24 L703.06,324.26 L702.16,323.25 L701.38,322.23 L700.72,321.18 L700.17,320.12 L699.75,319.05 L699.44,317.97 L699.26,316.89 L699.20,315.80 L699.20,329.20 L699.26,330.29 L699.44,331.37 L699.75,332.45 L700.17,333.52 L700.72,334.58 L701.38,335.63 L702.16,336.65 L703.06,337.66 L704.06,338.64 L705.18,339.60 L706.40,340.53 L707.72,341.43 L709.14,342.29 L710.66,343.12 L712.26,343.91 L713.96,344.66 L715.73,345.36 L717.58,346.03 L719.51,346.64 L721.50,347.21 L723.55,347.73 L725.66,348.20 L727.82,348.62 L730.02,348.98 L732.26,349.29 L734.53,349.55 L736.82,349.74 L739.14,349.89 L741.47,349.97 L743.80,350.00 Z" fill="url(#g3y)" stroke="url(#g3y)" stroke-width="0.4"/>
<path d="M743.80,316.80 L743.80,298.00 L746.20,298.03 L748.59,298.12 L750.97,298.27 L753.33,298.48 L755.66,298.75 L757.95,299.07 L760.21,299.46 L762.41,299.90 L764.57,300.39 L766.66,300.94 L768.69,301.54 L770.64,302.19 L772.52,302.89 L774.31,303.63 L776.02,304.42 L777.63,305.25 L779.14,306.11 L780.56,307.02 L781.86,307.96 L783.06,308.93 L784.14,309.93 L785.10,310.95 L785.95,312.00 L786.67,313.07 Z" fill="#5b7db9" stroke="#5b7db9" stroke-width="0.5" stroke-linejoin="round"/>
<path d="M743.80,316.80 L786.67,313.07 L787.26,314.13 L787.73,315.21 L788.08,316.30 L788.30,317.39 L788.40,318.49 L788.37,319.59 L788.22,320.69 L787.94,321.78 L787.54,322.86 L787.02,323.93 L786.38,324.99 L785.62,326.03 L784.74,327.05 L783.75,328.05 L782.65,329.02 L781.43,329.96 L780.12,330.87 L778.70,331.75 L777.18,332.59 L775.57,333.40 L773.87,334.16 L772.09,334.88 L770.23,335.55 L768.30,336.18 L766.29,336.76 L764.23,337.29 L762.10,337.77 L759.93,338.19 L757.71,338.56 L755.45,338.88 L753.16,339.14 L750.84,339.34 L748.51,339.48 L746.16,339.57 L743.80,339.60 Z" fill="#a44c4a" stroke="#a44c4a" stroke-width="0.5" stroke-linejoin="round"/>
<path d="M743.80,316.80 L743.80,339.60 L741.47,339.57 L739.14,339.49 L736.82,339.34 L734.53,339.15 L732.26,338.89 L730.02,338.58 L727.82,338.22 L725.66,337.80 L723.55,337.33 L721.50,336.81 L719.51,336.24 L717.58,335.63 L715.73,334.96 L713.96,334.26 L712.26,333.51 L710.66,332.72 L709.14,331.89 L707.72,331.03 L706.40,330.13 L705.18,329.20 L704.06,328.24 L703.06,327.26 L702.16,326.25 L701.38,325.23 L700.72,324.18 L700.17,323.12 L699.75,322.05 L699.44,320.97 L699.26,319.89 L699.20,318.80 L699.26,317.71 L699.44,316.63 L699.75,315.55 L700.17,314.48 L700.72,313.42 L701.38,312.37 L702.16,311.35 L703.06,310.34 L704.06,309.36 L705.18,308.40 L706.40,307.47 L707.72,306.57 L709.14,305.71 L710.66,304.88 L712.26,304.09 L713.96,303.34 L715.73,302.64 Z" fill="#eebb35" stroke="#eebb35" stroke-width="0.5" stroke-linejoin="round"/>
<path d="M743.80,316.80 L715.73,302.64 L717.58,301.97 L719.51,301.36 L721.50,300.79 L723.55,300.27 L725.66,299.80 L727.82,299.38 L730.02,299.02 L732.26,298.71 L734.53,298.45 L736.82,298.26 L739.14,298.11 L741.47,298.03 L743.80,298.00 Z" fill="#5ea85a" stroke="#5ea85a" stroke-width="0.5" stroke-linejoin="round"/>
<linearGradient id="g4b" gradientUnits="userSpaceOnUse" x1="699.1999999999999" y1="0" x2="788.4" y2="0"><stop offset="0" stop-color="#5676b0"/><stop offset="0.75" stop-color="#42609a"/><stop offset="1" stop-color="#34507f"/></linearGradient>
<path d="M788.40,393.30 L788.34,394.39 L788.16,395.47 L787.85,396.55 L787.43,397.62 L786.88,398.68 L786.22,399.73 L785.44,400.75 L784.54,401.76 L783.54,402.74 L782.42,403.70 L781.20,404.63 L779.88,405.53 L778.46,406.39 L776.94,407.22 L775.34,408.01 L773.64,408.76 L771.87,409.46 L770.02,410.13 L768.09,410.74 L766.10,411.31 L764.05,411.83 L761.94,412.30 L759.78,412.72 L757.58,413.08 L755.34,413.39 L753.07,413.65 L750.78,413.84 L748.46,413.99 L746.13,414.07 L743.80,414.10 L741.47,414.07 L739.14,413.99 L736.82,413.84 L734.53,413.65 L732.26,413.39 L730.02,413.08 L727.82,412.72 L725.66,412.30 L723.55,411.83 L721.50,411.31 L719.51,410.74 L717.58,410.13 L715.73,409.46 L713.96,408.76 L712.26,408.01 L710.66,407.22 L709.14,406.39 L707.72,405.53 L706.40,404.63 L705.18,403.70 L704.06,402.74 L703.06,401.76 L702.16,400.75 L701.38,399.73 L700.72,398.68 L700.17,397.62 L699.75,396.55 L699.44,395.47 L699.26,394.39 L699.20,393.30 L699.20,406.70 L699.26,407.79 L699.44,408.87 L699.75,409.95 L700.17,411.02 L700.72,412.08 L701.38,413.13 L702.16,414.15 L703.06,415.16 L704.06,416.14 L705.18,417.10 L706.40,418.03 L707.72,418.93 L709.14,419.79 L710.66,420.62 L712.26,421.41 L713.96,422.16 L715.73,422.86 L717.58,423.53 L719.51,424.14 L721.50,424.71 L723.55,425.23 L725.66,425.70 L727.82,426.12 L730.02,426.48 L732.26,426.79 L734.53,427.05 L736.82,427.24 L739.14,427.39 L741.47,427.47 L743.80,427.50 L746.13,427.47 L748.46,427.39 L750.78,427.24 L753.07,427.05 L755.34,426.79 L757.58,426.48 L759.78,426.12 L761.94,425.70 L764.05,425.23 L766.10,424.71 L768.09,424.14 L770.02,423.53 L771.87,422.86 L773.64,422.16 L775.34,421.41 L776.94,420.62 L778.46,419.79 L779.88,418.93 L781.20,418.03 L782.42,417.10 L783.54,416.14 L784.54,415.16 L785.44,414.15 L786.22,413.13 L786.88,412.08 L787.43,411.02 L787.85,409.95 L788.16,408.87 L788.34,407.79 L788.40,406.70 Z" fill="url(#g4b)" stroke="url(#g4b)" stroke-width="0.4"/>
<path d="M743.80,394.30 L743.80,375.50 L746.13,375.53 L748.46,375.61 L750.78,375.76 L753.07,375.95 L755.34,376.21 L757.58,376.52 L759.78,376.88 L761.94,377.30 L764.05,377.77 L766.10,378.29 L768.09,378.86 L770.02,379.47 L771.87,380.14 L773.64,380.84 L775.34,381.59 L776.94,382.38 L778.46,383.21 L779.88,384.07 L781.20,384.97 L782.42,385.90 L783.54,386.86 L784.54,387.84 L785.44,388.85 L786.22,389.87 L786.88,390.92 L787.43,391.98 L787.85,393.05 L788.16,394.13 L788.34,395.21 L788.40,396.30 L788.34,397.39 L788.16,398.47 L787.85,399.55 L787.43,400.62 L786.88,401.68 L786.22,402.73 L785.44,403.75 L784.54,404.76 L783.54,405.74 L782.42,406.70 L781.20,407.63 L779.88,408.53 L778.46,409.39 L776.94,410.22 L775.34,411.01 L773.64,411.76 L771.87,412.46 L770.02,413.13 L768.09,413.74 L766.10,414.31 L764.05,414.83 L761.94,415.30 L759.78,415.72 L757.58,416.08 L755.34,416.39 L753.07,416.65 L750.78,416.84 L748.46,416.99 L746.13,417.07 L743.80,417.10 L741.47,417.07 L739.14,416.99 L736.82,416.84 L734.53,416.65 L732.26,416.39 L730.02,416.08 L727.82,415.72 L725.66,415.30 L723.55,414.83 L721.50,414.31 L719.51,413.74 L717.58,413.13 L715.73,412.46 L713.96,411.76 L712.26,411.01 L710.66,410.22 L709.14,409.39 L707.72,408.53 L706.40,407.63 L705.18,406.70 L704.06,405.74 L703.06,404.76 L702.16,403.75 L701.38,402.73 L700.72,401.68 L700.17,400.62 L699.75,399.55 L699.44,398.47 L699.26,397.39 L699.20,396.30 L699.26,395.21 L699.44,394.13 L699.75,393.05 L700.17,391.98 L700.72,390.92 L701.38,389.87 L702.16,388.85 L703.06,387.84 L704.06,386.86 L705.18,385.90 L706.40,384.97 L707.72,384.07 L709.14,383.21 L710.66,382.38 L712.26,381.59 L713.96,380.84 L715.73,380.14 L717.58,379.47 L719.51,378.86 L721.50,378.29 L723.55,377.77 L725.66,377.30 L727.82,376.88 L730.02,376.52 L732.26,376.21 Z" fill="#5b7db9" stroke="#5b7db9" stroke-width="0.5" stroke-linejoin="round"/>
<path d="M743.80,394.30 L732.26,376.21 L734.78,375.93 L737.34,375.72 L739.91,375.58 Z" fill="#a44c4a" stroke="#a44c4a" stroke-width="0.5" stroke-linejoin="round"/>
<path d="M743.80,394.30 L739.91,375.58 L741.85,375.52 L743.80,375.50 Z" fill="#5ea85a" stroke="#5ea85a" stroke-width="0.5" stroke-linejoin="round"/>
<linearGradient id="g5b" gradientUnits="userSpaceOnUse" x1="699.1999999999999" y1="0" x2="788.4" y2="0"><stop offset="0" stop-color="#5676b0"/><stop offset="0.75" stop-color="#42609a"/><stop offset="1" stop-color="#34507f"/></linearGradient>
<path d="M788.40,470.30 L788.34,471.39 L788.16,472.47 L787.85,473.55 L787.43,474.62 L786.88,475.68 L786.22,476.73 L785.44,477.75 L784.54,478.76 L783.54,479.74 L782.42,480.70 L781.20,481.63 L779.88,482.53 L778.46,483.39 L776.94,484.22 L775.34,485.01 L773.64,485.76 L771.87,486.46 L770.02,487.13 L768.09,487.74 L768.09,501.14 L770.02,500.53 L771.87,499.86 L773.64,499.16 L775.34,498.41 L776.94,497.62 L778.46,496.79 L779.88,495.93 L781.20,495.03 L782.42,494.10 L783.54,493.14 L784.54,492.16 L785.44,491.15 L786.22,490.13 L786.88,489.08 L787.43,488.02 L787.85,486.95 L788.16,485.87 L788.34,484.79 L788.40,483.70 Z" fill="url(#g5b)" stroke="url(#g5b)" stroke-width="0.4"/>
<linearGradient id="g5r" gradientUnits="userSpaceOnUse" x1="699.1999999999999" y1="0" x2="788.4" y2="0"><stop offset="0" stop-color="#94403e"/><stop offset="0.75" stop-color="#6e2e2c"/><stop offset="1" stop-color="#5a2422"/></linearGradient>
<path d="M768.09,487.74 L766.10,488.31 L764.05,488.83 L761.94,489.30 L759.78,489.72 L757.58,490.08 L755.34,490.39 L753.07,490.65 L750.78,490.84 L748.46,490.99 L746.13,491.07 L743.80,491.10 L741.47,491.07 L739.14,490.99 L736.82,490.84 L734.53,490.65 L732.26,490.39 L730.02,490.08 L727.82,489.72 L725.66,489.30 L723.55,488.83 L721.50,488.31 L719.51,487.74 L717.58,487.13 L715.73,486.46 L713.96,485.76 L712.26,485.01 L710.66,484.22 L709.14,483.39 L707.72,482.53 L706.40,481.63 L705.18,480.70 L704.06,479.74 L703.06,478.76 L702.16,477.75 L701.38,476.73 L700.72,475.68 L700.17,474.62 L699.75,473.55 L699.44,472.47 L699.26,471.39 L699.20,470.30 L699.20,483.70 L699.26,484.79 L699.44,485.87 L699.75,486.95 L700.17,488.02 L700.72,489.08 L701.38,490.13 L702.16,491.15 L703.06,492.16 L704.06,493.14 L705.18,494.10 L706.40,495.03 L707.72,495.93 L709.14,496.79 L710.66,497.62 L712.26,498.41 L713.96,499.16 L715.73,499.86 L717.58,500.53 L719.51,501.14 L721.50,501.71 L723.55,502.23 L725.66,502.70 L727.82,503.12 L730.02,503.48 L732.26,503.79 L734.53,504.05 L736.82,504.24 L739.14,504.39 L741.47,504.47 L743.80,504.50 L746.13,504.47 L748.46,504.39 L750.78,504.24 L753.07,504.05 L755.34,503.79 L757.58,503.48 L759.78,503.12 L761.94,502.70 L764.05,502.23 L766.10,501.71 L768.09,501.14 Z" fill="url(#g5r)" stroke="url(#g5r)" stroke-width="0.4"/>
<path d="M743.80,471.30 L743.80,452.50 L746.13,452.53 L748.46,452.61 L750.78,452.76 L753.07,452.95 L755.34,453.21 L757.58,453.52 L759.78,453.88 L761.94,454.30 L764.05,454.77 L766.10,455.29 L768.09,455.86 L770.02,456.47 L771.87,457.14 L773.64,457.84 L775.34,458.59 L776.94,459.38 L778.46,460.21 L779.88,461.07 L781.20,461.97 L782.42,462.90 L783.54,463.86 L784.54,464.84 L785.44,465.85 L786.22,466.87 L786.88,467.92 L787.43,468.98 L787.85,470.05 L788.16,471.13 L788.34,472.21 L788.40,473.30 L788.34,474.39 L788.16,475.47 L787.85,476.55 L787.43,477.62 L786.88,478.68 L786.22,479.73 L785.44,480.75 L784.54,481.76 L783.54,482.74 L782.42,483.70 L781.20,484.63 L779.88,485.53 L778.46,486.39 L776.94,487.22 L775.34,488.01 L773.64,488.76 L771.87,489.46 L770.02,490.13 L768.09,490.74 Z" fill="#5b7db9" stroke="#5b7db9" stroke-width="0.5" stroke-linejoin="round"/>
<path d="M743.80,471.30 L768.09,490.74 L766.10,491.31 L764.05,491.83 L761.94,492.30 L759.78,492.72 L757.58,493.08 L755.34,493.39 L753.07,493.65 L750.78,493.84 L748.46,493.99 L746.13,494.07 L743.80,494.10 L741.47,494.07 L739.14,493.99 L736.82,493.84 L734.53,493.65 L732.26,493.39 L730.02,493.08 L727.82,492.72 L725.66,492.30 L723.55,491.83 L721.50,491.31 L719.51,490.74 L717.58,490.13 L715.73,489.46 L713.96,488.76 L712.26,488.01 L710.66,487.22 L709.14,486.39 L707.72,485.53 L706.40,484.63 L705.18,483.70 L704.06,482.74 L703.06,481.76 L702.16,480.75 L701.38,479.73 L700.72,478.68 L700.17,477.62 L699.75,476.55 L699.44,475.47 L699.26,474.39 L699.20,473.30 L699.26,472.21 L699.44,471.13 L699.75,470.05 L700.17,468.98 L700.72,467.92 L701.38,466.87 L702.16,465.85 L703.06,464.84 L704.06,463.86 L705.18,462.90 L706.40,461.97 L707.72,461.07 L709.14,460.21 L710.66,459.38 L712.26,458.59 L713.96,457.84 L715.73,457.14 L717.58,456.47 L719.51,455.86 L721.50,455.29 L723.55,454.77 L725.66,454.30 L727.82,453.88 L730.02,453.52 L732.26,453.21 L734.53,452.95 L736.82,452.76 L739.14,452.61 L741.47,452.53 L743.80,452.50 Z" fill="#a44c4a" stroke="#a44c4a" stroke-width="0.5" stroke-linejoin="round"/>
<linearGradient id="g6r" gradientUnits="userSpaceOnUse" x1="699.1999999999999" y1="0" x2="788.4" y2="0"><stop offset="0" stop-color="#94403e"/><stop offset="0.75" stop-color="#6e2e2c"/><stop offset="1" stop-color="#5a2422"/></linearGradient>
<path d="M788.40,544.60 L788.34,545.70 L788.15,546.80 L787.84,547.89 L787.40,548.98 L786.84,550.05 L786.17,551.10 L785.37,552.14 L784.45,553.15 L783.42,554.15 L782.28,555.11 L781.04,556.05 L779.69,556.95 L778.23,557.82 L776.68,558.65 L775.04,559.44 L773.31,560.20 L771.50,560.90 L769.61,561.56 L767.65,562.18 L765.62,562.74 L763.53,563.25 L761.38,563.72 L759.18,564.12 L756.95,564.48 L754.67,564.77 L752.36,565.01 L750.03,565.20 L747.69,565.32 L747.69,578.72 L750.03,578.60 L752.36,578.41 L754.67,578.17 L756.95,577.88 L759.18,577.52 L761.38,577.12 L763.53,576.65 L765.62,576.14 L767.65,575.58 L769.61,574.96 L771.50,574.30 L773.31,573.60 L775.04,572.84 L776.68,572.05 L778.23,571.22 L779.69,570.35 L781.04,569.45 L782.28,568.51 L783.42,567.55 L784.45,566.55 L785.37,565.54 L786.17,564.50 L786.84,563.45 L787.40,562.38 L787.84,561.29 L788.15,560.20 L788.34,559.10 L788.40,558.00 Z" fill="url(#g6r)" stroke="url(#g6r)" stroke-width="0.4"/>
<linearGradient id="g6y" gradientUnits="userSpaceOnUse" x1="699.1999999999999" y1="0" x2="788.4" y2="0"><stop offset="0" stop-color="#d8aa36"/><stop offset="0.75" stop-color="#b8922a"/><stop offset="1" stop-color="#8a6a18"/></linearGradient>
<path d="M747.69,565.32 L744.58,565.40 L741.47,565.37 L741.47,578.77 L744.58,578.80 L747.69,578.72 Z" fill="url(#g6y)" stroke="url(#g6y)" stroke-width="0.4"/>
<linearGradient id="g6g" gradientUnits="userSpaceOnUse" x1="699.1999999999999" y1="0" x2="788.4" y2="0"><stop offset="0" stop-color="#58a054"/><stop offset="0.75" stop-color="#418040"/><stop offset="1" stop-color="#33662f"/></linearGradient>
<path d="M741.47,565.37 L739.14,565.29 L736.82,565.14 L734.53,564.95 L732.26,564.69 L730.02,564.38 L727.82,564.02 L725.66,563.60 L723.55,563.13 L721.50,562.61 L719.51,562.04 L717.58,561.43 L715.73,560.76 L713.96,560.06 L712.26,559.31 L710.66,558.52 L709.14,557.69 L707.72,556.83 L706.40,555.93 L705.18,555.00 L704.06,554.04 L703.06,553.06 L702.16,552.05 L701.38,551.03 L700.72,549.98 L700.17,548.92 L699.75,547.85 L699.44,546.77 L699.26,545.69 L699.20,544.60 L699.20,558.00 L699.26,559.09 L699.44,560.17 L699.75,561.25 L700.17,562.32 L700.72,563.38 L701.38,564.43 L702.16,565.45 L703.06,566.46 L704.06,567.44 L705.18,568.40 L706.40,569.33 L707.72,570.23 L709.14,571.09 L710.66,571.92 L712.26,572.71 L713.96,573.46 L715.73,574.16 L717.58,574.83 L719.51,575.44 L721.50,576.01 L723.55,576.53 L725.66,577.00 L727.82,577.42 L730.02,577.78 L732.26,578.09 L734.53,578.35 L736.82,578.54 L739.14,578.69 L741.47,578.77 Z" fill="url(#g6g)" stroke="url(#g6g)" stroke-width="0.4"/>
<path d="M743.80,545.60 L743.80,526.80 L746.21,526.83 L748.61,526.92 L751.00,527.07 L753.36,527.28 L755.70,527.55 L758.00,527.88 L760.27,528.27 L762.48,528.71 L764.64,529.21 L766.74,529.76 L768.77,530.37 L770.73,531.02 L772.61,531.72 L774.41,532.47 L776.11,533.26 L777.73,534.10 L779.24,534.97 L780.65,535.88 L781.95,536.83 L783.14,537.80 L784.22,538.81 Z" fill="#5b7db9" stroke="#5b7db9" stroke-width="0.5" stroke-linejoin="round"/>
<path d="M743.80,545.60 L784.22,538.81 L785.17,539.83 L786.00,540.87 L786.71,541.92 L787.30,543.00 L787.76,544.09 L788.10,545.19 L788.31,546.29 L788.40,547.40 L788.36,548.51 L788.19,549.61 L787.90,550.71 L787.48,551.81 L786.94,552.89 L786.27,553.95 L785.48,555.00 L784.58,556.02 L783.56,557.03 L782.42,558.00 L781.18,558.95 L779.83,559.86 L778.38,560.74 L776.83,561.58 L775.18,562.38 L773.45,563.14 L771.63,563.85 L769.73,564.52 L767.76,565.14 L765.72,565.71 L763.62,566.23 L761.47,566.70 L759.26,567.11 L757.01,567.47 L754.72,567.77 L752.39,568.01 L750.05,568.19 L747.69,568.32 Z" fill="#a44c4a" stroke="#a44c4a" stroke-width="0.5" stroke-linejoin="round"/>
<path d="M743.80,545.60 L747.69,568.32 L744.58,568.40 L741.47,568.37 Z" fill="#eebb35" stroke="#eebb35" stroke-width="0.5" stroke-linejoin="round"/>
<path d="M743.80,545.60 L741.47,568.37 L739.14,568.29 L736.82,568.14 L734.53,567.95 L732.26,567.69 L730.02,567.38 L727.82,567.02 L725.66,566.60 L723.55,566.13 L721.50,565.61 L719.51,565.04 L717.58,564.43 L715.73,563.76 L713.96,563.06 L712.26,562.31 L710.66,561.52 L709.14,560.69 L707.72,559.83 L706.40,558.93 L705.18,558.00 L704.06,557.04 L703.06,556.06 L702.16,555.05 L701.38,554.03 L700.72,552.98 L700.17,551.92 L699.75,550.85 L699.44,549.77 L699.26,548.69 L699.20,547.60 L699.26,546.51 L699.44,545.43 L699.75,544.35 L700.17,543.28 L700.72,542.22 L701.38,541.17 L702.16,540.15 L703.06,539.14 L704.06,538.16 L705.18,537.20 L706.40,536.27 L707.72,535.37 L709.14,534.51 L710.66,533.68 L712.26,532.89 L713.96,532.14 L715.73,531.44 L717.58,530.77 L719.51,530.16 L721.50,529.59 L723.55,529.07 L725.66,528.60 L727.82,528.18 L730.02,527.82 L732.26,527.51 L734.53,527.25 L736.82,527.06 L739.14,526.91 L741.47,526.83 L743.80,526.80 Z" fill="#5ea85a" stroke="#5ea85a" stroke-width="0.5" stroke-linejoin="round"/>
<linearGradient id="g7b" gradientUnits="userSpaceOnUse" x1="699.1999999999999" y1="0" x2="788.4" y2="0"><stop offset="0" stop-color="#5676b0"/><stop offset="0.75" stop-color="#42609a"/><stop offset="1" stop-color="#34507f"/></linearGradient>
<path d="M788.40,622.20 L788.33,623.33 L788.14,624.45 L787.81,625.57 L787.35,626.68 L786.77,627.78 L786.05,628.86 L785.22,629.92 L784.26,630.95 L783.18,631.97 L783.18,645.37 L784.26,644.35 L785.22,643.32 L786.05,642.26 L786.77,641.18 L787.35,640.08 L787.81,638.97 L788.14,637.85 L788.33,636.73 L788.40,635.60 Z" fill="url(#g7b)" stroke="url(#g7b)" stroke-width="0.4"/>
<linearGradient id="g7r" gradientUnits="userSpaceOnUse" x1="699.1999999999999" y1="0" x2="788.4" y2="0"><stop offset="0" stop-color="#94403e"/><stop offset="0.75" stop-color="#6e2e2c"/><stop offset="1" stop-color="#5a2422"/></linearGradient>
<path d="M783.18,631.97 L782.01,632.93 L780.74,633.86 L779.36,634.75 L777.89,635.61 L776.31,636.44 L774.65,637.22 L772.90,637.96 L771.06,638.66 L769.15,639.31 L767.17,639.92 L765.12,640.47 L763.01,640.97 L760.85,641.42 L758.64,641.81 L756.39,642.15 L754.11,642.44 L751.79,642.66 L749.45,642.83 L747.10,642.94 L744.73,643.00 L742.37,642.99 L740.01,642.92 L737.65,642.80 L735.32,642.62 L733.01,642.38 L730.73,642.09 L728.49,641.74 L726.29,641.33 L724.14,640.87 L722.04,640.36 L720.01,639.79 L718.04,639.18 L716.15,638.52 L714.33,637.81 L712.60,637.06 L710.95,636.27 L709.40,635.44 L707.94,634.57 L706.58,633.66 L705.33,632.73 L704.19,631.76 L703.16,630.77 L702.24,629.75 L701.44,628.71 L700.76,627.65 L700.20,626.58 L699.76,625.50 L699.45,624.40 L699.26,623.30 L699.20,622.20 L699.20,635.60 L699.26,636.70 L699.45,637.80 L699.76,638.90 L700.20,639.98 L700.76,641.05 L701.44,642.11 L702.24,643.15 L703.16,644.17 L704.19,645.16 L705.33,646.13 L706.58,647.06 L707.94,647.97 L709.40,648.84 L710.95,649.67 L712.60,650.46 L714.33,651.21 L716.15,651.92 L718.04,652.58 L720.01,653.19 L722.04,653.76 L724.14,654.27 L726.29,654.73 L728.49,655.14 L730.73,655.49 L733.01,655.78 L735.32,656.02 L737.65,656.20 L740.01,656.32 L742.37,656.39 L744.73,656.40 L747.10,656.34 L749.45,656.23 L751.79,656.06 L754.11,655.84 L756.39,655.55 L758.64,655.21 L760.85,654.82 L763.01,654.37 L765.12,653.87 L767.17,653.32 L769.15,652.71 L771.06,652.06 L772.90,651.36 L774.65,650.62 L776.31,649.84 L777.89,649.01 L779.36,648.15 L780.74,647.26 L782.01,646.33 L783.18,645.37 Z" fill="url(#g7r)" stroke="url(#g7r)" stroke-width="0.4"/>
<path d="M743.80,623.20 L743.80,604.40 L746.15,604.43 L748.50,604.52 L750.84,604.66 L753.15,604.86 L755.44,605.12 L757.70,605.44 L759.91,605.80 L762.09,606.23 L764.21,606.71 L766.27,607.23 L768.27,607.81 L770.21,608.44 L772.07,609.11 L773.85,609.83 L775.55,610.59 L777.16,611.39 L778.67,612.23 L780.09,613.11 L781.41,614.02 L782.62,614.96 L783.73,615.93 L784.72,616.93 L785.60,617.95 L786.36,618.99 L787.01,620.04 L787.53,621.11 L787.93,622.19 L788.21,623.29 L788.37,624.38 L788.40,625.48 L788.30,626.58 L788.08,627.67 L787.74,628.76 L787.28,629.83 L786.69,630.90 L785.99,631.95 L785.17,632.97 L784.23,633.98 L783.18,634.97 Z" fill="#5b7db9" stroke="#5b7db9" stroke-width="0.5" stroke-linejoin="round"/>
<path d="M743.80,623.20 L783.18,634.97 L782.02,635.92 L780.75,636.85 L779.37,637.75 L777.90,638.61 L776.33,639.43 L774.67,640.21 L772.93,640.95 L771.10,641.65 L769.20,642.30 L767.22,642.90 L765.18,643.45 L763.08,643.96 L760.93,644.40 L758.73,644.80 L756.48,645.14 L754.21,645.43 L751.90,645.65 L749.57,645.83 L747.22,645.94 L744.86,645.99 L742.50,645.99 L740.15,645.93 L737.80,645.81 L735.47,645.63 L733.17,645.40 L730.89,645.11 L728.65,644.76 L726.45,644.36 L724.30,643.91 L722.21,643.40 L720.18,642.84 L718.21,642.24 L716.31,641.58 L714.49,640.88 L712.76,640.13 L711.11,639.35 L709.55,638.52 L708.08,637.66 L706.72,636.76 L705.46,635.83 L704.31,634.87 L703.27,633.88 L702.34,632.87 L701.53,631.84 L700.84,630.78 L700.26,629.72 L699.81,628.64 L699.48,627.55 L699.28,626.45 L699.20,625.35 L699.25,624.25 L699.42,623.15 L699.71,622.06 L700.13,620.98 L700.67,619.91 L701.33,618.85 L702.11,617.81 L703.01,616.79 L704.02,615.80 L705.14,614.83 L706.37,613.89 L707.70,612.98 L709.14,612.11 Z" fill="#a44c4a" stroke="#a44c4a" stroke-width="0.5" stroke-linejoin="round"/>
<path d="M743.80,623.20 L709.14,612.11 L710.92,611.15 L712.82,610.24 L714.83,609.38 L716.96,608.59 Z" fill="#eebb35" stroke="#eebb35" stroke-width="0.5" stroke-linejoin="round"/>
<path d="M743.80,623.20 L716.96,608.59 L718.91,607.94 L720.94,607.34 L723.03,606.79 L725.19,606.30 L727.39,605.86 L729.65,605.47 L731.94,605.15 L734.27,604.88 L736.63,604.67 L739.01,604.52 L741.40,604.43 L743.80,604.40 Z" fill="#5ea85a" stroke="#5ea85a" stroke-width="0.5" stroke-linejoin="round"/>
<linearGradient id="g8r" gradientUnits="userSpaceOnUse" x1="699.1999999999999" y1="0" x2="788.4" y2="0"><stop offset="0" stop-color="#94403e"/><stop offset="0.75" stop-color="#6e2e2c"/><stop offset="1" stop-color="#5a2422"/></linearGradient>
<path d="M788.40,767.20 L788.34,768.29 L788.16,769.37 L787.85,770.45 L787.43,771.52 L786.88,772.58 L786.22,773.63 L785.44,774.65 L784.54,775.66 L783.54,776.64 L782.42,777.60 L781.20,778.53 L779.88,779.43 L778.46,780.29 L776.94,781.12 L776.94,794.52 L778.46,793.69 L779.88,792.83 L781.20,791.93 L782.42,791.00 L783.54,790.04 L784.54,789.06 L785.44,788.05 L786.22,787.03 L786.88,785.98 L787.43,784.92 L787.85,783.85 L788.16,782.77 L788.34,781.69 L788.40,780.60 Z" fill="url(#g8r)" stroke="url(#g8r)" stroke-width="0.4"/>
<linearGradient id="g8y" gradientUnits="userSpaceOnUse" x1="699.1999999999999" y1="0" x2="788.4" y2="0"><stop offset="0" stop-color="#d8aa36"/><stop offset="0.75" stop-color="#b8922a"/><stop offset="1" stop-color="#8a6a18"/></linearGradient>
<path d="M776.94,781.12 L775.34,781.91 L773.64,782.66 L771.87,783.36 L770.02,784.03 L768.09,784.64 L766.10,785.21 L764.05,785.73 L761.94,786.20 L759.78,786.62 L757.58,786.98 L755.34,787.29 L753.07,787.55 L750.78,787.74 L748.46,787.89 L746.13,787.97 L743.80,788.00 L741.47,787.97 L739.14,787.89 L736.82,787.74 L734.53,787.55 L732.26,787.29 L730.02,786.98 L727.82,786.62 L725.66,786.20 L723.55,785.73 L721.50,785.21 L719.51,784.64 L717.58,784.03 L715.73,783.36 L713.96,782.66 L712.26,781.91 L710.66,781.12 L709.14,780.29 L707.72,779.43 L706.40,778.53 L705.18,777.60 L704.06,776.64 L703.06,775.66 L702.16,774.65 L701.38,773.63 L700.72,772.58 L700.17,771.52 L699.75,770.45 L699.44,769.37 L699.26,768.29 L699.20,767.20 L699.20,780.60 L699.26,781.69 L699.44,782.77 L699.75,783.85 L700.17,784.92 L700.72,785.98 L701.38,787.03 L702.16,788.05 L703.06,789.06 L704.06,790.04 L705.18,791.00 L706.40,791.93 L707.72,792.83 L709.14,793.69 L710.66,794.52 L712.26,795.31 L713.96,796.06 L715.73,796.76 L717.58,797.43 L719.51,798.04 L721.50,798.61 L723.55,799.13 L725.66,799.60 L727.82,800.02 L730.02,800.38 L732.26,800.69 L734.53,800.95 L736.82,801.14 L739.14,801.29 L741.47,801.37 L743.80,801.40 L746.13,801.37 L748.46,801.29 L750.78,801.14 L753.07,800.95 L755.34,800.69 L757.58,800.38 L759.78,800.02 L761.94,799.60 L764.05,799.13 L766.10,798.61 L768.09,798.04 L770.02,797.43 L771.87,796.76 L773.64,796.06 L775.34,795.31 L776.94,794.52 Z" fill="url(#g8y)" stroke="url(#g8y)" stroke-width="0.4"/>
<path d="M743.80,768.20 L743.80,749.40 L746.16,749.43 L748.52,749.52 L750.86,749.66 L753.18,749.86 L755.47,750.13 L757.74,750.44 L759.96,750.81 L762.14,751.24 L764.26,751.72 L766.33,752.25 L768.34,752.83 L770.28,753.46 L772.14,754.14 L773.92,754.86 L775.62,755.63 L777.23,756.43 L778.75,757.28 L780.16,758.16 L781.48,759.07 L782.69,760.02 L783.79,760.99 L784.78,761.99 L785.65,763.02 L786.41,764.06 L787.05,765.12 L787.57,766.19 L787.96,767.28 L788.23,768.37 L788.37,769.47 Z" fill="#5b7db9" stroke="#5b7db9" stroke-width="0.5" stroke-linejoin="round"/>
<path d="M743.80,768.20 L788.37,769.47 L788.39,770.61 L788.28,771.75 L788.03,772.89 L787.64,774.02 L787.13,775.13 L786.48,776.23 L785.71,777.31 L784.81,778.37 L783.79,779.41 L782.65,780.42 L781.39,781.40 L780.01,782.34 L778.53,783.25 L776.94,784.12 Z" fill="#a44c4a" stroke="#a44c4a" stroke-width="0.5" stroke-linejoin="round"/>
<path d="M743.80,768.20 L776.94,784.12 L775.33,784.91 L773.62,785.67 L771.83,786.38 L769.97,787.04 L768.03,787.66 L766.03,788.23 L763.96,788.75 L761.84,789.22 L759.66,789.64 L757.45,790.00 L755.19,790.31 L752.91,790.56 L750.60,790.76 L748.26,790.90 L745.92,790.98 L743.57,791.00 L741.23,790.97 L738.88,790.87 L736.56,790.72 L734.25,790.52 L731.97,790.25 L729.72,789.94 L727.51,789.56 L725.35,789.14 L723.24,788.66 L721.18,788.13 L719.19,787.55 L717.27,786.92 L715.41,786.24 L713.64,785.52 L711.95,784.76 L710.35,783.96 L708.85,783.12 L707.44,782.24 L706.13,781.33 L704.92,780.39 L703.83,779.42 L702.84,778.43 L701.97,777.41 L701.21,776.38 L700.57,775.32 L700.05,774.25 L699.66,773.17 L699.38,772.09 L699.23,770.99 L699.20,769.90 L699.30,768.80 L699.52,767.71 L699.86,766.63 L700.33,765.55 L700.91,764.49 L701.62,763.45 L702.44,762.42 L703.37,761.42 L704.42,760.43 Z" fill="#eebb35" stroke="#eebb35" stroke-width="0.5" stroke-linejoin="round"/>
<path d="M743.80,768.20 L704.42,760.43 L705.61,759.46 L706.91,758.51 L708.32,757.60 L709.84,756.72 L711.45,755.88 L713.16,755.09 L714.95,754.34 L716.83,753.63 L718.80,752.98 L720.83,752.37 L722.93,751.82 L725.09,751.32 L727.31,750.87 L729.57,750.49 L731.88,750.16 L734.22,749.89 L736.59,749.67 L738.98,749.52 L741.39,749.43 L743.80,749.40 Z" fill="#5ea85a" stroke="#5ea85a" stroke-width="0.5" stroke-linejoin="round"/>
<linearGradient id="g9r" gradientUnits="userSpaceOnUse" x1="699.1999999999999" y1="0" x2="788.4" y2="0"><stop offset="0" stop-color="#94403e"/><stop offset="0.75" stop-color="#6e2e2c"/><stop offset="1" stop-color="#5a2422"/></linearGradient>
<path d="M788.40,992.00 L788.33,993.14 L788.13,994.29 L787.79,995.42 L787.32,996.54 L786.72,997.65 L785.99,998.75 L785.13,999.82 L784.15,1000.87 L783.04,1001.89 L781.81,1002.88 L780.47,1003.84 L779.02,1004.76 L777.46,1005.65 L777.46,1019.05 L779.02,1018.16 L780.47,1017.24 L781.81,1016.28 L783.04,1015.29 L784.15,1014.27 L785.13,1013.22 L785.99,1012.15 L786.72,1011.05 L787.32,1009.94 L787.79,1008.82 L788.13,1007.69 L788.33,1006.54 L788.40,1005.40 Z" fill="url(#g9r)" stroke="url(#g9r)" stroke-width="0.4"/>
<linearGradient id="g9y" gradientUnits="userSpaceOnUse" x1="699.1999999999999" y1="0" x2="788.4" y2="0"><stop offset="0" stop-color="#d8aa36"/><stop offset="0.75" stop-color="#b8922a"/><stop offset="1" stop-color="#8a6a18"/></linearGradient>
<path d="M777.46,1005.65 L775.76,1006.51 L773.96,1007.32 L772.07,1008.09 L770.09,1008.80 L768.02,1009.47 L765.87,1010.07 L763.66,1010.62 L761.39,1011.11 L759.05,1011.55 L759.05,1024.95 L761.39,1024.51 L763.66,1024.02 L765.87,1023.47 L768.02,1022.87 L770.09,1022.20 L772.07,1021.49 L773.96,1020.72 L775.76,1019.91 L777.46,1019.05 Z" fill="url(#g9y)" stroke="url(#g9y)" stroke-width="0.4"/>
<linearGradient id="g9g" gradientUnits="userSpaceOnUse" x1="699.1999999999999" y1="0" x2="788.4" y2="0"><stop offset="0" stop-color="#58a054"/><stop offset="0.75" stop-color="#418040"/><stop offset="1" stop-color="#33662f"/></linearGradient>
<path d="M759.05,1011.55 L756.80,1011.90 L754.51,1012.19 L752.18,1012.43 L749.84,1012.61 L747.47,1012.73 L745.10,1012.79 L742.72,1012.79 L740.34,1012.74 L737.98,1012.62 L735.63,1012.45 L733.30,1012.22 L731.01,1011.93 L728.75,1011.58 L726.53,1011.18 L724.37,1010.72 L722.25,1010.21 L720.20,1009.65 L718.22,1009.04 L716.31,1008.38 L714.47,1007.67 L712.73,1006.92 L711.06,1006.13 L709.50,1005.29 L708.03,1004.42 L706.66,1003.51 L705.39,1002.57 L704.24,1001.60 L703.20,1000.61 L702.27,999.59 L701.46,998.54 L700.78,997.48 L700.21,996.40 L699.77,995.31 L699.45,994.21 L699.26,993.11 L699.20,992.00 L699.20,1005.40 L699.26,1006.51 L699.45,1007.61 L699.77,1008.71 L700.21,1009.80 L700.78,1010.88 L701.46,1011.94 L702.27,1012.99 L703.20,1014.01 L704.24,1015.00 L705.39,1015.97 L706.66,1016.91 L708.03,1017.82 L709.50,1018.69 L711.06,1019.53 L712.73,1020.32 L714.47,1021.07 L716.31,1021.78 L718.22,1022.44 L720.20,1023.05 L722.25,1023.61 L724.37,1024.12 L726.53,1024.58 L728.75,1024.98 L731.01,1025.33 L733.30,1025.62 L735.63,1025.85 L737.98,1026.02 L740.34,1026.14 L742.72,1026.19 L745.10,1026.19 L747.47,1026.13 L749.84,1026.01 L752.18,1025.83 L754.51,1025.59 L756.80,1025.30 L759.05,1024.95 Z" fill="url(#g9g)" stroke="url(#g9g)" stroke-width="0.4"/>
<path d="M743.80,993.00 L743.80,974.20 L746.18,974.23 L748.55,974.32 L750.91,974.47 L753.25,974.67 L755.56,974.94 L757.84,975.26 L760.08,975.64 L762.27,976.07 L764.41,976.56 L766.50,977.09 L768.51,977.68 L770.46,978.32 L772.33,979.01 L774.12,979.74 L775.82,980.52 L777.43,981.34 L778.95,982.19 Z" fill="#5b7db9" stroke="#5b7db9" stroke-width="0.5" stroke-linejoin="round"/>
<path d="M743.80,993.00 L778.95,982.19 L780.35,983.08 L781.65,984.00 L782.85,984.95 L783.94,985.93 L784.91,986.94 L785.77,987.96 L786.51,989.01 L787.13,990.08 L787.63,991.15 L788.01,992.24 L788.26,993.34 L788.38,994.44 L788.38,995.54 L788.26,996.65 L788.01,997.74 L787.64,998.83 L787.14,999.91 L786.52,1000.97 L785.78,1002.02 L784.92,1003.05 L783.95,1004.06 L782.87,1005.04 L781.67,1005.99 L780.37,1006.91 L778.96,1007.79 L777.46,1008.65 Z" fill="#a44c4a" stroke="#a44c4a" stroke-width="0.5" stroke-linejoin="round"/>
<path d="M743.80,993.00 L777.46,1008.65 L775.76,1009.51 L773.96,1010.32 L772.07,1011.09 L770.09,1011.80 L768.02,1012.47 L765.87,1013.07 L763.66,1013.62 L761.39,1014.11 L759.05,1014.55 Z" fill="#eebb35" stroke="#eebb35" stroke-width="0.5" stroke-linejoin="round"/>
<path d="M743.80,993.00 L759.05,1014.55 L756.82,1014.89 L754.54,1015.19 L752.24,1015.42 L749.91,1015.60 L747.57,1015.73 L745.22,1015.79 L742.86,1015.80 L740.50,1015.74 L738.15,1015.63 L735.82,1015.46 L733.51,1015.24 L731.23,1014.96 L728.99,1014.62 L726.79,1014.23 L724.63,1013.78 L722.53,1013.28 L720.49,1012.73 L718.51,1012.13 L716.60,1011.48 L714.77,1010.79 L713.02,1010.05 L711.36,1009.27 L709.79,1008.45 L708.31,1007.60 L706.93,1006.70 L705.66,1005.78 L704.49,1004.82 L703.43,1003.84 L702.48,1002.83 L701.65,1001.80 L700.94,1000.75 L700.35,999.69 L699.88,998.61 L699.53,997.52 L699.31,996.43 L699.21,995.33 L699.23,994.23 L699.38,993.13 L699.65,992.04 L700.05,990.96 L700.57,989.88 L701.21,988.82 L701.97,987.78 L702.85,986.76 L703.84,985.76 L704.94,984.79 L706.15,983.85 L707.47,982.93 L708.89,982.06 L710.40,981.21 L712.01,980.41 L713.71,979.65 L715.49,978.93 L717.36,978.25 L719.29,977.62 L721.30,977.04 L723.36,976.51 L725.49,976.03 L727.66,975.61 L729.88,975.24 L732.14,974.92 L734.43,974.66 L736.75,974.46 L739.09,974.32 L741.44,974.23 L743.80,974.20 Z" fill="#5ea85a" stroke="#5ea85a" stroke-width="0.5" stroke-linejoin="round"/>
<linearGradient id="g10b" gradientUnits="userSpaceOnUse" x1="699.1999999999999" y1="0" x2="788.4" y2="0"><stop offset="0" stop-color="#5676b0"/><stop offset="0.75" stop-color="#42609a"/><stop offset="1" stop-color="#34507f"/></linearGradient>
<path d="M788.40,1068.30 L788.34,1069.39 L788.16,1070.47 L787.85,1071.55 L787.43,1072.62 L786.88,1073.68 L786.22,1074.73 L785.44,1075.75 L784.54,1076.76 L783.54,1077.74 L782.42,1078.70 L781.20,1079.63 L779.88,1080.53 L778.46,1081.39 L776.94,1082.22 L775.34,1083.01 L773.64,1083.76 L771.87,1084.46 L770.02,1085.13 L768.09,1085.74 L766.10,1086.31 L764.05,1086.83 L761.94,1087.30 L759.78,1087.72 L757.58,1088.08 L755.34,1088.39 L753.07,1088.65 L750.78,1088.84 L748.46,1088.99 L746.13,1089.07 L743.80,1089.10 L741.47,1089.07 L739.14,1088.99 L736.82,1088.84 L734.53,1088.65 L732.26,1088.39 L730.02,1088.08 L727.82,1087.72 L725.66,1087.30 L723.55,1086.83 L721.50,1086.31 L719.51,1085.74 L717.58,1085.13 L715.73,1084.46 L713.96,1083.76 L712.26,1083.01 L710.66,1082.22 L709.14,1081.39 L707.72,1080.53 L706.40,1079.63 L705.18,1078.70 L704.06,1077.74 L703.06,1076.76 L702.16,1075.75 L701.38,1074.73 L700.72,1073.68 L700.17,1072.62 L699.75,1071.55 L699.44,1070.47 L699.26,1069.39 L699.20,1068.30 L699.20,1081.70 L699.26,1082.79 L699.44,1083.87 L699.75,1084.95 L700.17,1086.02 L700.72,1087.08 L701.38,1088.13 L702.16,1089.15 L703.06,1090.16 L704.06,1091.14 L705.18,1092.10 L706.40,1093.03 L707.72,1093.93 L709.14,1094.79 L710.66,1095.62 L712.26,1096.41 L713.96,1097.16 L715.73,1097.86 L717.58,1098.53 L719.51,1099.14 L721.50,1099.71 L723.55,1100.23 L725.66,1100.70 L727.82,1101.12 L730.02,1101.48 L732.26,1101.79 L734.53,1102.05 L736.82,1102.24 L739.14,1102.39 L741.47,1102.47 L743.80,1102.50 L746.13,1102.47 L748.46,1102.39 L750.78,1102.24 L753.07,1102.05 L755.34,1101.79 L757.58,1101.48 L759.78,1101.12 L761.94,1100.70 L764.05,1100.23 L766.10,1099.71 L768.09,1099.14 L770.02,1098.53 L771.87,1097.86 L773.64,1097.16 L775.34,1096.41 L776.94,1095.62 L778.46,1094.79 L779.88,1093.93 L781.20,1093.03 L782.42,1092.10 L783.54,1091.14 L784.54,1090.16 L785.44,1089.15 L786.22,1088.13 L786.88,1087.08 L787.43,1086.02 L787.85,1084.95 L788.16,1083.87 L788.34,1082.79 L788.40,1081.70 Z" fill="url(#g10b)" stroke="url(#g10b)" stroke-width="0.4"/>
<ellipse cx="743.8" cy="1071.3" rx="44.6" ry="20.8" fill="#5b7db9"/>
<linearGradient id="g11r" gradientUnits="userSpaceOnUse" x1="699.1999999999999" y1="0" x2="788.4" y2="0"><stop offset="0" stop-color="#94403e"/><stop offset="0.75" stop-color="#6e2e2c"/><stop offset="1" stop-color="#5a2422"/></linearGradient>
<path d="M788.40,1220.30 L788.34,1221.39 L788.16,1222.47 L787.85,1223.55 L787.43,1224.62 L786.88,1225.68 L786.22,1226.73 L785.44,1227.75 L784.54,1228.76 L783.54,1229.74 L782.42,1230.70 L781.20,1231.63 L781.20,1245.03 L782.42,1244.10 L783.54,1243.14 L784.54,1242.16 L785.44,1241.15 L786.22,1240.13 L786.88,1239.08 L787.43,1238.02 L787.85,1236.95 L788.16,1235.87 L788.34,1234.79 L788.40,1233.70 Z" fill="url(#g11r)" stroke="url(#g11r)" stroke-width="0.4"/>
<linearGradient id="g11g" gradientUnits="userSpaceOnUse" x1="699.1999999999999" y1="0" x2="788.4" y2="0"><stop offset="0" stop-color="#58a054"/><stop offset="0.75" stop-color="#418040"/><stop offset="1" stop-color="#33662f"/></linearGradient>
<path d="M781.20,1231.63 L779.88,1232.53 L778.46,1233.39 L776.94,1234.22 L775.34,1235.01 L773.64,1235.76 L771.87,1236.46 L770.02,1237.13 L768.09,1237.74 L766.10,1238.31 L764.05,1238.83 L761.94,1239.30 L759.78,1239.72 L757.58,1240.08 L755.34,1240.39 L753.07,1240.65 L750.78,1240.84 L748.46,1240.99 L746.13,1241.07 L743.80,1241.10 L741.47,1241.07 L739.14,1240.99 L736.82,1240.84 L734.53,1240.65 L732.26,1240.39 L730.02,1240.08 L727.82,1239.72 L725.66,1239.30 L723.55,1238.83 L721.50,1238.31 L719.51,1237.74 L717.58,1237.13 L715.73,1236.46 L713.96,1235.76 L712.26,1235.01 L710.66,1234.22 L709.14,1233.39 L707.72,1232.53 L706.40,1231.63 L705.18,1230.70 L704.06,1229.74 L703.06,1228.76 L702.16,1227.75 L701.38,1226.73 L700.72,1225.68 L700.17,1224.62 L699.75,1223.55 L699.44,1222.47 L699.26,1221.39 L699.20,1220.30 L699.20,1233.70 L699.26,1234.79 L699.44,1235.87 L699.75,1236.95 L700.17,1238.02 L700.72,1239.08 L701.38,1240.13 L702.16,1241.15 L703.06,1242.16 L704.06,1243.14 L705.18,1244.10 L706.40,1245.03 L707.72,1245.93 L709.14,1246.79 L710.66,1247.62 L712.26,1248.41 L713.96,1249.16 L715.73,1249.86 L717.58,1250.53 L719.51,1251.14 L721.50,1251.71 L723.55,1252.23 L725.66,1252.70 L727.82,1253.12 L730.02,1253.48 L732.26,1253.79 L734.53,1254.05 L736.82,1254.24 L739.14,1254.39 L741.47,1254.47 L743.80,1254.50 L746.13,1254.47 L748.46,1254.39 L750.78,1254.24 L753.07,1254.05 L755.34,1253.79 L757.58,1253.48 L759.78,1253.12 L761.94,1252.70 L764.05,1252.23 L766.10,1251.71 L768.09,1251.14 L770.02,1250.53 L771.87,1249.86 L773.64,1249.16 L775.34,1248.41 L776.94,1247.62 L778.46,1246.79 L779.88,1245.93 L781.20,1245.03 Z" fill="url(#g11g)" stroke="url(#g11g)" stroke-width="0.4"/>
<path d="M743.80,1221.30 L743.80,1202.50 L746.18,1202.53 L748.56,1202.62 L750.92,1202.77 L753.26,1202.97 L755.58,1203.24 L757.86,1203.56 L760.10,1203.94 L762.30,1204.37 L764.44,1204.86 L766.52,1205.40 L768.54,1205.99 L770.49,1206.63 L772.36,1207.32 L774.15,1208.06 L775.85,1208.83 L777.46,1209.65 Z" fill="#5b7db9" stroke="#5b7db9" stroke-width="0.5" stroke-linejoin="round"/>
<path d="M743.80,1221.30 L777.46,1209.65 L778.99,1210.52 L780.41,1211.42 L781.73,1212.35 L782.93,1213.32 L784.03,1214.32 L785.01,1215.34 L785.86,1216.39 L786.60,1217.45 L787.21,1218.53 L787.70,1219.63 L788.06,1220.74 L788.29,1221.85 L788.39,1222.97 L788.37,1224.09 L788.21,1225.20 L787.93,1226.31 L787.52,1227.42 L786.98,1228.51 L786.32,1229.58 L785.53,1230.64 L784.62,1231.68 L783.60,1232.69 L782.46,1233.67 L781.20,1234.63 Z" fill="#a44c4a" stroke="#a44c4a" stroke-width="0.5" stroke-linejoin="round"/>
<path d="M743.80,1221.30 L781.20,1234.63 L779.88,1235.53 L778.46,1236.39 L776.94,1237.22 L775.34,1238.01 L773.64,1238.76 L771.87,1239.46 L770.02,1240.13 L768.09,1240.74 L766.10,1241.31 L764.05,1241.83 L761.94,1242.30 L759.78,1242.72 L757.58,1243.08 L755.34,1243.39 L753.07,1243.65 L750.78,1243.84 L748.46,1243.99 L746.13,1244.07 L743.80,1244.10 L741.47,1244.07 L739.14,1243.99 L736.82,1243.84 L734.53,1243.65 L732.26,1243.39 L730.02,1243.08 L727.82,1242.72 L725.66,1242.30 L723.55,1241.83 L721.50,1241.31 L719.51,1240.74 L717.58,1240.13 L715.73,1239.46 L713.96,1238.76 L712.26,1238.01 L710.66,1237.22 L709.14,1236.39 L707.72,1235.53 L706.40,1234.63 L705.18,1233.70 L704.06,1232.74 L703.06,1231.76 L702.16,1230.75 L701.38,1229.73 L700.72,1228.68 L700.17,1227.62 L699.75,1226.55 L699.44,1225.47 L699.26,1224.39 L699.20,1223.30 L699.26,1222.21 L699.44,1221.13 L699.75,1220.05 L700.17,1218.98 L700.72,1217.92 L701.38,1216.87 L702.16,1215.85 L703.06,1214.84 L704.06,1213.86 L705.18,1212.90 L706.40,1211.97 L707.72,1211.07 L709.14,1210.21 L710.66,1209.38 L712.26,1208.59 L713.96,1207.84 L715.73,1207.14 L717.58,1206.47 L719.51,1205.86 L721.50,1205.29 L723.55,1204.77 L725.66,1204.30 L727.82,1203.88 L730.02,1203.52 L732.26,1203.21 L734.53,1202.95 L736.82,1202.76 L739.14,1202.61 L741.47,1202.53 L743.80,1202.50 Z" fill="#5ea85a" stroke="#5ea85a" stroke-width="0.5" stroke-linejoin="round"/>
<rect x="13.5" y="1116.5" width="242" height="144" fill="none" stroke="#000" stroke-width="3"/>
<rect x="31.5" y="1133" width="16.5" height="16" fill="#5b7db9"/>
<rect x="31.5" y="1166" width="16.5" height="16" fill="#a44c4a"/>
<rect x="31.5" y="1200" width="16.5" height="16" fill="#eebb35"/>
<rect x="31.5" y="1233" width="16.5" height="16" fill="#5ea85a"/>
<text x="55.51" y="1149.5" font-size="24" textLength="145.62" lengthAdjust="spacingAndGlyphs" fill="#111">Canada-USA</text>
<text x="54.81" y="1182.5" font-size="24" textLength="85.68" lengthAdjust="spacingAndGlyphs" fill="#111">Mexico</text>
<text x="55.49" y="1215.5" font-size="24" textLength="189.36" lengthAdjust="spacingAndGlyphs" fill="#111">Central America</text>
<text x="55.80" y="1249" font-size="24" textLength="172.55" lengthAdjust="spacingAndGlyphs" fill="#111">South America</text>
</svg></body></html>
